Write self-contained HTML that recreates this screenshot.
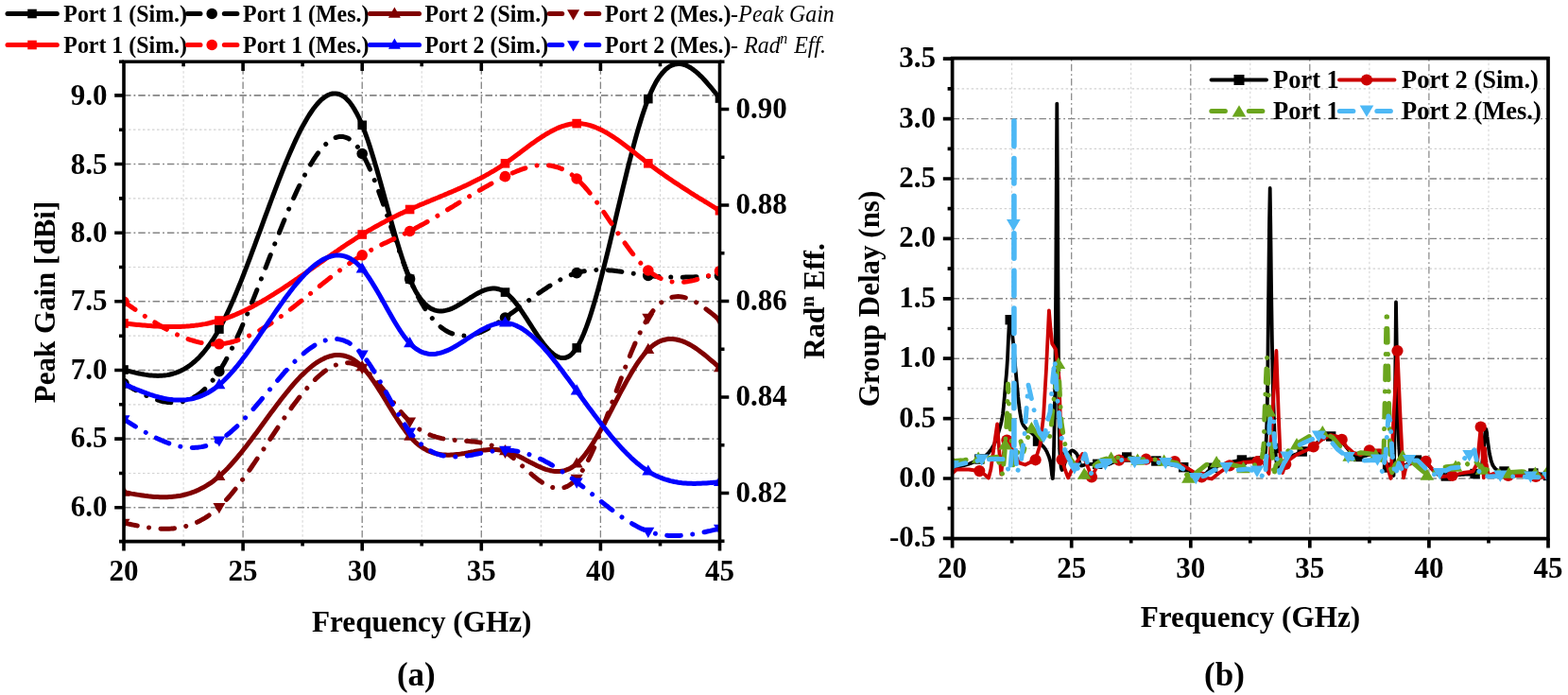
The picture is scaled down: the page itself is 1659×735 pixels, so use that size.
<!DOCTYPE html>
<html lang="en"><head><meta charset="utf-8"><title>Peak gain, radiation efficiency and group delay</title>
<style>
html,body{margin:0;padding:0;background:#fff;}
body{width:1659px;height:735px;overflow:hidden;}
svg{display:block;font-family:'Liberation Serif','Times New Roman',serif;font-weight:bold;}
.it{font-style:italic;font-weight:normal;}
.tk{font-size:31px;}
.lg{font-size:23.9px;}
.ti{font-size:31.2px;}
</style></head><body>
<svg width="1659" height="735" viewBox="0 0 1659 735">
<rect width="1659" height="735" fill="#fff"/>
<defs>
<clipPath id="ca"><rect x="131.0" y="65.2" width="630.5" height="507.40000000000003"/></clipPath>
<clipPath id="cb"><rect x="1007.6" y="61.7" width="630.4" height="507.90000000000003"/></clipPath>
</defs>

<g id="chart-a">
<path d="M194.1 65.2V572.6M320.1 65.2V572.6M446.2 65.2V572.6M572.4 65.2V572.6M698.5 65.2V572.6" stroke="#d2d2d2" stroke-width="1" stroke-dasharray="2.5 2.5" fill="none"/>
<path d="M131 500.5H761.5M131 427.8H761.5M131 355.2H761.5M131 282.5H761.5M131 209.9H761.5M131 137.2H761.5" stroke="#d2d2d2" stroke-width="1.2" stroke-dasharray="2.5 2.5" fill="none"/>
<path d="M257.1 65.2V572.6M383.2 65.2V572.6M509.3 65.2V572.6M635.4 65.2V572.6" stroke="#858585" stroke-width="1.3" stroke-dasharray="7.5 3 1.8 3" stroke-dashoffset="-6.1" fill="none"/>
<path d="M131 536.8H761.5M131 464.1H761.5M131 391.5H761.5M131 318.8H761.5M131 246.2H761.5M131 173.5H761.5M131 100.9H761.5" stroke="#858585" stroke-width="1.6" stroke-dasharray="7.5 3 1.8 3" fill="none"/>
<g clip-path="url(#ca)" fill="none" stroke-linecap="round" stroke-linejoin="round">
<path d="M131 391 L133 391.5 L135 392.1 L137 392.6 L139 393.1 L141 393.6 L143 394.1 L145 394.5 L147 395 L149 395.4 L151 395.7 L153 396.1 L155 396.4 L157 396.7 L159 396.9 L161 397.1 L163 397.2 L165 397.3 L167 397.4 L169 397.3 L171 397.2 L173 397.1 L175 396.9 L177 396.6 L179 396.2 L181 395.7 L183 395.2 L185 394.6 L187 393.9 L189 393.1 L191 392.2 L193 391.2 L195.1 390.1 L197.1 388.9 L199.1 387.6 L201.1 386.2 L203.1 384.7 L205.1 383 L207.1 381.3 L209.1 379.4 L211.1 377.4 L213.1 375.2 L215.1 373 L217.1 370.5 L219.1 368 L221.1 365.3 L223.1 362.4 L225.1 359.5 L227.1 356.3 L229.1 353 L231.1 349.5 L233.1 345.9 L235.1 342.1 L237.1 338.2 L239.1 334.1 L241.1 329.9 L243.1 325.5 L245.1 321 L247.1 316.4 L249.1 311.7 L251.1 306.9 L253.1 302 L255.1 297.1 L257.1 292 L259.1 286.9 L261.1 281.7 L263.1 276.4 L265.1 271.1 L267.1 265.7 L269.1 260.4 L271.1 254.9 L273.1 249.5 L275.1 244.1 L277.1 238.6 L279.1 233.1 L281.1 227.7 L283.1 222.3 L285.1 216.9 L287.1 211.5 L289.1 206.1 L291.1 200.8 L293.1 195.6 L295.1 190.4 L297.1 185.3 L299.1 180.3 L301.1 175.3 L303.1 170.4 L305.1 165.6 L307.1 161 L309.1 156.4 L311.1 152 L313.1 147.6 L315.1 143.5 L317.1 139.4 L319.1 135.5 L321.2 131.8 L323.2 128.2 L325.2 124.8 L327.2 121.5 L329.2 118.5 L331.2 115.6 L333.2 113 L335.2 110.5 L337.2 108.3 L339.2 106.2 L341.2 104.4 L343.2 102.9 L345.2 101.6 L347.2 100.5 L349.2 99.7 L351.2 99.1 L353.2 98.9 L355.2 98.9 L357.2 99.2 L359.2 99.7 L361.2 100.6 L363.2 101.8 L365.2 103.3 L367.2 105.2 L369.2 107.3 L371.2 109.8 L373.2 112.7 L375.2 115.9 L377.2 119.4 L379.2 123.3 L381.2 127.6 L383.2 132.3 L385.2 137.4 L387.2 142.8 L389.2 148.5 L391.2 154.6 L393.2 160.9 L395.2 167.4 L397.2 174.1 L399.2 181 L401.2 188.1 L403.2 195.2 L405.2 202.5 L407.2 209.7 L409.2 217 L411.2 224.3 L413.2 231.5 L415.2 238.6 L417.2 245.7 L419.2 252.6 L421.2 259.3 L423.2 265.8 L425.2 272 L427.2 278 L429.2 283.8 L431.2 289.1 L433.2 294.1 L435.2 298.8 L437.2 303 L439.2 306.9 L441.2 310.4 L443.2 313.5 L445.2 316.3 L447.3 318.8 L449.3 321 L451.3 322.9 L453.3 324.5 L455.3 325.9 L457.3 326.9 L459.3 327.8 L461.3 328.4 L463.3 328.8 L465.3 329 L467.3 329 L469.3 328.8 L471.3 328.4 L473.3 327.9 L475.3 327.3 L477.3 326.6 L479.3 325.7 L481.3 324.7 L483.3 323.7 L485.3 322.5 L487.3 321.4 L489.3 320.1 L491.3 318.9 L493.3 317.6 L495.3 316.3 L497.3 315 L499.3 313.8 L501.3 312.6 L503.3 311.4 L505.3 310.3 L507.3 309.2 L509.3 308.3 L511.3 307.4 L513.3 306.7 L515.3 306 L517.3 305.6 L519.3 305.2 L521.3 305.1 L523.3 305.1 L525.3 305.3 L527.3 305.7 L529.3 306.3 L531.3 307.2 L533.3 308.3 L535.3 309.7 L537.3 311.3 L539.3 313.2 L541.3 315.2 L543.3 317.5 L545.3 319.9 L547.3 322.6 L549.3 325.3 L551.3 328.1 L553.3 331.1 L555.3 334.1 L557.3 337.2 L559.3 340.3 L561.3 343.4 L563.3 346.5 L565.3 349.6 L567.3 352.6 L569.3 355.6 L571.3 358.5 L573.4 361.3 L575.4 363.9 L577.4 366.4 L579.4 368.7 L581.4 370.8 L583.4 372.7 L585.4 374.4 L587.4 375.9 L589.4 377 L591.4 377.9 L593.4 378.4 L595.4 378.6 L597.4 378.5 L599.4 378 L601.4 377.1 L603.4 375.8 L605.4 374 L607.4 371.8 L609.4 369.1 L611.4 365.9 L613.4 362.3 L615.4 358.1 L617.4 353.5 L619.4 348.5 L621.4 343.1 L623.4 337.4 L625.4 331.2 L627.4 324.8 L629.4 318.1 L631.4 311.1 L633.4 303.8 L635.4 296.3 L637.4 288.6 L639.4 280.7 L641.4 272.7 L643.4 264.6 L645.4 256.3 L647.4 248 L649.4 239.6 L651.4 231.1 L653.4 222.7 L655.4 214.2 L657.4 205.8 L659.4 197.5 L661.4 189.3 L663.4 181.1 L665.4 173.1 L667.4 165.3 L669.4 157.6 L671.4 150.1 L673.4 142.9 L675.4 135.9 L677.4 129.2 L679.4 122.8 L681.4 116.7 L683.4 111 L685.4 105.6 L687.4 100.7 L689.4 96.1 L691.4 91.9 L693.4 88.1 L695.4 84.6 L697.4 81.5 L699.5 78.8 L701.5 76.4 L703.5 74.2 L705.5 72.4 L707.5 70.9 L709.5 69.7 L711.5 68.8 L713.5 68.1 L715.5 67.7 L717.5 67.5 L719.5 67.6 L721.5 67.8 L723.5 68.3 L725.5 69 L727.5 69.9 L729.5 71 L731.5 72.2 L733.5 73.6 L735.5 75.2 L737.5 76.9 L739.5 78.7 L741.5 80.6 L743.5 82.6 L745.5 84.8 L747.5 87 L749.5 89.3 L751.5 91.6 L753.5 94 L755.5 96.5 L757.5 99 L759.5 101.5 L761.5 104" stroke="#000000" stroke-width="5" />
<rect x="126.2" y="386.2" width="9.6" height="9.6" fill="#000000"/>
<rect x="227.1" y="343.3" width="9.6" height="9.6" fill="#000000"/>
<rect x="378.4" y="127.5" width="9.6" height="9.6" fill="#000000"/>
<rect x="428.8" y="290.3" width="9.6" height="9.6" fill="#000000"/>
<rect x="529.7" y="304.3" width="9.6" height="9.6" fill="#000000"/>
<rect x="605.4" y="363.1" width="9.6" height="9.6" fill="#000000"/>
<rect x="681" y="99.8" width="9.6" height="9.6" fill="#000000"/>
<rect x="756.7" y="99.2" width="9.6" height="9.6" fill="#000000"/>
<path d="M131 405.5 L133 406.7 L135 407.8 L137 409 L139 410.1 L141 411.2 L143 412.3 L145 413.4 L147 414.5 L149 415.5 L151 416.5 L153 417.5 L155 418.4 L157 419.3 L159 420.2 L161 421 L163 421.7 L165 422.4 L167 423.1 L169 423.7 L171 424.2 L173 424.7 L175 425 L177 425.4 L179 425.6 L181 425.7 L183 425.8 L185 425.8 L187 425.7 L189 425.5 L191 425.2 L193 424.8 L195.1 424.3 L197.1 423.7 L199.1 423 L201.1 422.2 L203.1 421.2 L205.1 420.2 L207.1 419 L209.1 417.7 L211.1 416.2 L213.1 414.7 L215.1 412.9 L217.1 411.1 L219.1 409.1 L221.1 406.9 L223.1 404.7 L225.1 402.2 L227.1 399.6 L229.1 396.8 L231.1 393.9 L233.1 390.8 L235.1 387.6 L237.1 384.2 L239.1 380.6 L241.1 376.9 L243.1 373 L245.1 369.1 L247.1 365 L249.1 360.7 L251.1 356.4 L253.1 352 L255.1 347.5 L257.1 342.8 L259.1 338.1 L261.1 333.4 L263.1 328.5 L265.1 323.6 L267.1 318.6 L269.1 313.6 L271.1 308.6 L273.1 303.5 L275.1 298.3 L277.1 293.2 L279.1 288 L281.1 282.8 L283.1 277.6 L285.1 272.5 L287.1 267.3 L289.1 262.1 L291.1 257 L293.1 251.9 L295.1 246.9 L297.1 241.8 L299.1 236.9 L301.1 232 L303.1 227.1 L305.1 222.3 L307.1 217.6 L309.1 213 L311.1 208.5 L313.1 204.1 L315.1 199.8 L317.1 195.6 L319.1 191.5 L321.2 187.5 L323.2 183.6 L325.2 179.9 L327.2 176.4 L329.2 173 L331.2 169.7 L333.2 166.6 L335.2 163.7 L337.2 161 L339.2 158.4 L341.2 156.1 L343.2 153.9 L345.2 152 L347.2 150.2 L349.2 148.7 L351.2 147.4 L353.2 146.3 L355.2 145.5 L357.2 144.9 L359.2 144.5 L361.2 144.5 L363.2 144.6 L365.2 145.1 L367.2 145.8 L369.2 146.8 L371.2 148.2 L373.2 149.8 L375.2 151.7 L377.2 153.9 L379.2 156.4 L381.2 159.3 L383.2 162.5 L385.2 166 L387.2 169.9 L389.2 174 L391.2 178.4 L393.2 183.1 L395.2 188 L397.2 193.1 L399.2 198.3 L401.2 203.8 L403.2 209.3 L405.2 215 L407.2 220.8 L409.2 226.7 L411.2 232.5 L413.2 238.5 L415.2 244.4 L417.2 250.3 L419.2 256.1 L421.2 261.9 L423.2 267.6 L425.2 273.2 L427.2 278.7 L429.2 284 L431.2 289.1 L433.2 294 L435.2 298.7 L437.2 303.2 L439.2 307.5 L441.2 311.6 L443.2 315.4 L445.2 319 L447.3 322.5 L449.3 325.7 L451.3 328.7 L453.3 331.6 L455.3 334.2 L457.3 336.7 L459.3 339 L461.3 341.2 L463.3 343.1 L465.3 344.9 L467.3 346.6 L469.3 348 L471.3 349.3 L473.3 350.5 L475.3 351.6 L477.3 352.4 L479.3 353.2 L481.3 353.8 L483.3 354.3 L485.3 354.7 L487.3 354.9 L489.3 355 L491.3 355.1 L493.3 355 L495.3 354.8 L497.3 354.5 L499.3 354.1 L501.3 353.6 L503.3 353 L505.3 352.4 L507.3 351.7 L509.3 350.9 L511.3 350 L513.3 349 L515.3 348 L517.3 347 L519.3 345.8 L521.3 344.7 L523.3 343.5 L525.3 342.2 L527.3 340.9 L529.3 339.6 L531.3 338.2 L533.3 336.8 L535.3 335.4 L537.3 334 L539.3 332.6 L541.3 331.1 L543.3 329.7 L545.3 328.2 L547.3 326.7 L549.3 325.2 L551.3 323.7 L553.3 322.2 L555.3 320.7 L557.3 319.3 L559.3 317.8 L561.3 316.3 L563.3 314.8 L565.3 313.4 L567.3 312 L569.3 310.5 L571.3 309.1 L573.4 307.8 L575.4 306.4 L577.4 305.1 L579.4 303.7 L581.4 302.5 L583.4 301.2 L585.4 300 L587.4 298.8 L589.4 297.7 L591.4 296.6 L593.4 295.5 L595.4 294.5 L597.4 293.6 L599.4 292.6 L601.4 291.8 L603.4 291 L605.4 290.2 L607.4 289.5 L609.4 288.8 L611.4 288.3 L613.4 287.7 L615.4 287.3 L617.4 286.9 L619.4 286.5 L621.4 286.2 L623.4 286 L625.4 285.8 L627.4 285.6 L629.4 285.5 L631.4 285.4 L633.4 285.4 L635.4 285.4 L637.4 285.4 L639.4 285.5 L641.4 285.6 L643.4 285.7 L645.4 285.9 L647.4 286.1 L649.4 286.3 L651.4 286.5 L653.4 286.8 L655.4 287 L657.4 287.3 L659.4 287.6 L661.4 287.9 L663.4 288.2 L665.4 288.5 L667.4 288.8 L669.4 289.2 L671.4 289.5 L673.4 289.8 L675.4 290.1 L677.4 290.4 L679.4 290.7 L681.4 290.9 L683.4 291.2 L685.4 291.5 L687.4 291.7 L689.4 291.9 L691.4 292.1 L693.4 292.3 L695.4 292.4 L697.4 292.6 L699.5 292.7 L701.5 292.8 L703.5 292.9 L705.5 293 L707.5 293 L709.5 293.1 L711.5 293.1 L713.5 293.2 L715.5 293.2 L717.5 293.2 L719.5 293.2 L721.5 293.2 L723.5 293.2 L725.5 293.1 L727.5 293.1 L729.5 293 L731.5 293 L733.5 292.9 L735.5 292.8 L737.5 292.8 L739.5 292.7 L741.5 292.6 L743.5 292.5 L745.5 292.4 L747.5 292.3 L749.5 292.2 L751.5 292.1 L753.5 292 L755.5 291.8 L757.5 291.7 L759.5 291.6 L761.5 291.5" stroke="#000000" stroke-width="5" stroke-dasharray="14.68 12.52 0.01 12.52"/>
<circle cx="131" cy="405.5" r="5.8" fill="#000000"/>
<circle cx="231.9" cy="392.7" r="5.8" fill="#000000"/>
<circle cx="383.2" cy="162.5" r="5.8" fill="#000000"/>
<circle cx="433.6" cy="295" r="5.8" fill="#000000"/>
<circle cx="534.5" cy="336" r="5.8" fill="#000000"/>
<circle cx="610.2" cy="288.6" r="5.8" fill="#000000"/>
<circle cx="685.8" cy="291.5" r="5.8" fill="#000000"/>
<circle cx="761.5" cy="291.5" r="5.8" fill="#000000"/>
<path d="M131 520.6 L133 521 L135 521.3 L137 521.7 L139 522.1 L141 522.4 L143 522.8 L145 523.1 L147 523.4 L149 523.7 L151 524 L153 524.3 L155 524.5 L157 524.8 L159 525 L161 525.2 L163 525.4 L165 525.5 L167 525.6 L169 525.7 L171 525.8 L173 525.8 L175 525.8 L177 525.7 L179 525.6 L181 525.5 L183 525.3 L185 525.1 L187 524.8 L189 524.5 L191 524.2 L193 523.8 L195.1 523.3 L197.1 522.8 L199.1 522.2 L201.1 521.6 L203.1 520.9 L205.1 520.2 L207.1 519.4 L209.1 518.5 L211.1 517.6 L213.1 516.6 L215.1 515.6 L217.1 514.4 L219.1 513.2 L221.1 511.9 L223.1 510.6 L225.1 509.2 L227.1 507.6 L229.1 506.1 L231.1 504.4 L233.1 502.6 L235.1 500.8 L237.1 498.9 L239.1 496.9 L241.1 494.9 L243.1 492.7 L245.1 490.5 L247.1 488.3 L249.1 486 L251.1 483.6 L253.1 481.2 L255.1 478.8 L257.1 476.3 L259.1 473.7 L261.1 471.2 L263.1 468.6 L265.1 465.9 L267.1 463.3 L269.1 460.6 L271.1 457.9 L273.1 455.2 L275.1 452.5 L277.1 449.7 L279.1 447 L281.1 444.3 L283.1 441.5 L285.1 438.8 L287.1 436.1 L289.1 433.4 L291.1 430.7 L293.1 428.1 L295.1 425.4 L297.1 422.8 L299.1 420.3 L301.1 417.7 L303.1 415.2 L305.1 412.8 L307.1 410.3 L309.1 408 L311.1 405.7 L313.1 403.4 L315.1 401.2 L317.1 399.1 L319.1 397.1 L321.2 395.1 L323.2 393.2 L325.2 391.3 L327.2 389.6 L329.2 387.9 L331.2 386.3 L333.2 384.8 L335.2 383.4 L337.2 382.1 L339.2 381 L341.2 379.9 L343.2 378.9 L345.2 378 L347.2 377.3 L349.2 376.7 L351.2 376.2 L353.2 375.8 L355.2 375.6 L357.2 375.5 L359.2 375.5 L361.2 375.7 L363.2 376 L365.2 376.5 L367.2 377.1 L369.2 377.9 L371.2 378.8 L373.2 379.9 L375.2 381.2 L377.2 382.6 L379.2 384.2 L381.2 386 L383.2 388 L385.2 390.2 L387.2 392.5 L389.2 395 L391.2 397.6 L393.2 400.3 L395.2 403.2 L397.2 406.2 L399.2 409.2 L401.2 412.4 L403.2 415.5 L405.2 418.8 L407.2 422 L409.2 425.3 L411.2 428.6 L413.2 431.9 L415.2 435.1 L417.2 438.4 L419.2 441.5 L421.2 444.6 L423.2 447.6 L425.2 450.6 L427.2 453.4 L429.2 456.1 L431.2 458.6 L433.2 461 L435.2 463.3 L437.2 465.4 L439.2 467.3 L441.2 469.1 L443.2 470.7 L445.2 472.2 L447.3 473.6 L449.3 474.8 L451.3 475.9 L453.3 476.9 L455.3 477.7 L457.3 478.5 L459.3 479.1 L461.3 479.7 L463.3 480.1 L465.3 480.5 L467.3 480.8 L469.3 481 L471.3 481.1 L473.3 481.2 L475.3 481.2 L477.3 481.1 L479.3 481 L481.3 480.8 L483.3 480.6 L485.3 480.4 L487.3 480.1 L489.3 479.8 L491.3 479.5 L493.3 479.1 L495.3 478.8 L497.3 478.4 L499.3 478 L501.3 477.7 L503.3 477.3 L505.3 477 L507.3 476.7 L509.3 476.4 L511.3 476.1 L513.3 475.9 L515.3 475.7 L517.3 475.6 L519.3 475.5 L521.3 475.5 L523.3 475.5 L525.3 475.6 L527.3 475.7 L529.3 476 L531.3 476.3 L533.3 476.7 L535.3 477.2 L537.3 477.8 L539.3 478.5 L541.3 479.2 L543.3 480 L545.3 480.9 L547.3 481.8 L549.3 482.8 L551.3 483.8 L553.3 484.8 L555.3 485.9 L557.3 487 L559.3 488 L561.3 489.1 L563.3 490.1 L565.3 491.1 L567.3 492.1 L569.3 493 L571.3 493.9 L573.4 494.8 L575.4 495.6 L577.4 496.3 L579.4 496.9 L581.4 497.4 L583.4 497.9 L585.4 498.2 L587.4 498.4 L589.4 498.5 L591.4 498.5 L593.4 498.3 L595.4 498 L597.4 497.6 L599.4 496.9 L601.4 496.1 L603.4 495.2 L605.4 494 L607.4 492.6 L609.4 491.1 L611.4 489.3 L613.4 487.3 L615.4 485.2 L617.4 482.8 L619.4 480.3 L621.4 477.6 L623.4 474.7 L625.4 471.7 L627.4 468.6 L629.4 465.3 L631.4 462 L633.4 458.5 L635.4 455 L637.4 451.4 L639.4 447.7 L641.4 443.9 L643.4 440.2 L645.4 436.3 L647.4 432.5 L649.4 428.7 L651.4 424.8 L653.4 421 L655.4 417.2 L657.4 413.4 L659.4 409.7 L661.4 406 L663.4 402.4 L665.4 398.9 L667.4 395.4 L669.4 392.1 L671.4 388.8 L673.4 385.7 L675.4 382.7 L677.4 379.9 L679.4 377.2 L681.4 374.7 L683.4 372.4 L685.4 370.2 L687.4 368.3 L689.4 366.5 L691.4 364.9 L693.4 363.5 L695.4 362.3 L697.4 361.3 L699.5 360.4 L701.5 359.7 L703.5 359.2 L705.5 358.8 L707.5 358.6 L709.5 358.5 L711.5 358.5 L713.5 358.7 L715.5 359 L717.5 359.5 L719.5 360 L721.5 360.7 L723.5 361.4 L725.5 362.3 L727.5 363.2 L729.5 364.3 L731.5 365.4 L733.5 366.6 L735.5 367.9 L737.5 369.3 L739.5 370.7 L741.5 372.2 L743.5 373.7 L745.5 375.3 L747.5 376.9 L749.5 378.6 L751.5 380.3 L753.5 382 L755.5 383.7 L757.5 385.5 L759.5 387.2 L761.5 389" stroke="#800000" stroke-width="5" />
<path d="M124.5 524.8L137.5 524.8L131 513.6Z" fill="#800000"/>
<path d="M225.4 507.9L238.4 507.9L231.9 496.7Z" fill="#800000"/>
<path d="M376.7 392.2L389.7 392.2L383.2 381Z" fill="#800000"/>
<path d="M427.1 465.7L440.1 465.7L433.6 454.5Z" fill="#800000"/>
<path d="M528 481.2L541 481.2L534.5 470Z" fill="#800000"/>
<path d="M603.7 494.6L616.7 494.6L610.2 483.4Z" fill="#800000"/>
<path d="M679.3 374L692.3 374L685.8 362.8Z" fill="#800000"/>
<path d="M755 393.2L768 393.2L761.5 382Z" fill="#800000"/>
<path d="M131 553 L133 553.4 L135 553.9 L137 554.3 L139 554.7 L141 555.1 L143 555.5 L145 555.9 L147 556.3 L149 556.7 L151 557 L153 557.3 L155 557.6 L157 557.9 L159 558.2 L161 558.4 L163 558.7 L165 558.8 L167 559 L169 559.1 L171 559.2 L173 559.3 L175 559.3 L177 559.2 L179 559.2 L181 559.1 L183 558.9 L185 558.7 L187 558.5 L189 558.2 L191 557.8 L193 557.4 L195.1 556.9 L197.1 556.4 L199.1 555.8 L201.1 555.2 L203.1 554.5 L205.1 553.7 L207.1 552.9 L209.1 552 L211.1 551 L213.1 549.9 L215.1 548.8 L217.1 547.6 L219.1 546.3 L221.1 545 L223.1 543.5 L225.1 542 L227.1 540.4 L229.1 538.7 L231.1 536.9 L233.1 535.1 L235.1 533.1 L237.1 531.1 L239.1 528.9 L241.1 526.7 L243.1 524.5 L245.1 522.1 L247.1 519.7 L249.1 517.2 L251.1 514.7 L253.1 512.1 L255.1 509.4 L257.1 506.7 L259.1 503.9 L261.1 501.2 L263.1 498.3 L265.1 495.5 L267.1 492.5 L269.1 489.6 L271.1 486.7 L273.1 483.7 L275.1 480.7 L277.1 477.7 L279.1 474.6 L281.1 471.6 L283.1 468.6 L285.1 465.5 L287.1 462.5 L289.1 459.5 L291.1 456.5 L293.1 453.5 L295.1 450.5 L297.1 447.5 L299.1 444.6 L301.1 441.6 L303.1 438.8 L305.1 435.9 L307.1 433.1 L309.1 430.3 L311.1 427.6 L313.1 424.9 L315.1 422.3 L317.1 419.7 L319.1 417.2 L321.2 414.8 L323.2 412.4 L325.2 410.1 L327.2 407.8 L329.2 405.6 L331.2 403.6 L333.2 401.6 L335.2 399.6 L337.2 397.8 L339.2 396.1 L341.2 394.5 L343.2 392.9 L345.2 391.5 L347.2 390.2 L349.2 389 L351.2 387.9 L353.2 386.9 L355.2 386.1 L357.2 385.3 L359.2 384.8 L361.2 384.3 L363.2 384 L365.2 383.8 L367.2 383.7 L369.2 383.8 L371.2 384.1 L373.2 384.5 L375.2 385.1 L377.2 385.8 L379.2 386.7 L381.2 387.8 L383.2 389 L385.2 390.4 L387.2 392 L389.2 393.7 L391.2 395.6 L393.2 397.5 L395.2 399.6 L397.2 401.8 L399.2 404.1 L401.2 406.5 L403.2 409 L405.2 411.4 L407.2 414 L409.2 416.6 L411.2 419.1 L413.2 421.7 L415.2 424.3 L417.2 426.9 L419.2 429.4 L421.2 431.9 L423.2 434.4 L425.2 436.8 L427.2 439.1 L429.2 441.3 L431.2 443.4 L433.2 445.4 L435.2 447.3 L437.2 449 L439.2 450.7 L441.2 452.2 L443.2 453.6 L445.2 454.9 L447.3 456.1 L449.3 457.2 L451.3 458.2 L453.3 459.2 L455.3 460 L457.3 460.8 L459.3 461.4 L461.3 462.1 L463.3 462.6 L465.3 463.1 L467.3 463.6 L469.3 464 L471.3 464.3 L473.3 464.6 L475.3 464.9 L477.3 465.1 L479.3 465.3 L481.3 465.5 L483.3 465.7 L485.3 465.8 L487.3 466 L489.3 466.1 L491.3 466.2 L493.3 466.4 L495.3 466.5 L497.3 466.7 L499.3 466.9 L501.3 467.1 L503.3 467.3 L505.3 467.6 L507.3 467.9 L509.3 468.2 L511.3 468.6 L513.3 469 L515.3 469.5 L517.3 470.1 L519.3 470.7 L521.3 471.4 L523.3 472.2 L525.3 473 L527.3 473.9 L529.3 474.9 L531.3 476 L533.3 477.2 L535.3 478.5 L537.3 479.9 L539.3 481.4 L541.3 483 L543.3 484.6 L545.3 486.3 L547.3 488 L549.3 489.8 L551.3 491.6 L553.3 493.4 L555.3 495.2 L557.3 497 L559.3 498.8 L561.3 500.6 L563.3 502.3 L565.3 504 L567.3 505.6 L569.3 507.2 L571.3 508.6 L573.4 510 L575.4 511.3 L577.4 512.4 L579.4 513.5 L581.4 514.4 L583.4 515.1 L585.4 515.7 L587.4 516.1 L589.4 516.4 L591.4 516.5 L593.4 516.3 L595.4 516 L597.4 515.4 L599.4 514.7 L601.4 513.6 L603.4 512.4 L605.4 510.8 L607.4 509 L609.4 506.9 L611.4 504.5 L613.4 501.9 L615.4 498.9 L617.4 495.7 L619.4 492.2 L621.4 488.6 L623.4 484.7 L625.4 480.6 L627.4 476.3 L629.4 471.8 L631.4 467.2 L633.4 462.4 L635.4 457.6 L637.4 452.6 L639.4 447.5 L641.4 442.3 L643.4 437 L645.4 431.7 L647.4 426.4 L649.4 421 L651.4 415.6 L653.4 410.2 L655.4 404.9 L657.4 399.6 L659.4 394.3 L661.4 389.1 L663.4 383.9 L665.4 378.9 L667.4 373.9 L669.4 369.1 L671.4 364.4 L673.4 359.9 L675.4 355.5 L677.4 351.3 L679.4 347.3 L681.4 343.5 L683.4 340 L685.4 336.6 L687.4 333.6 L689.4 330.7 L691.4 328.1 L693.4 325.8 L695.4 323.7 L697.4 321.8 L699.5 320.1 L701.5 318.6 L703.5 317.4 L705.5 316.3 L707.5 315.4 L709.5 314.7 L711.5 314.2 L713.5 313.9 L715.5 313.7 L717.5 313.6 L719.5 313.7 L721.5 314 L723.5 314.4 L725.5 314.9 L727.5 315.5 L729.5 316.3 L731.5 317.2 L733.5 318.1 L735.5 319.2 L737.5 320.3 L739.5 321.6 L741.5 322.9 L743.5 324.2 L745.5 325.7 L747.5 327.2 L749.5 328.7 L751.5 330.3 L753.5 331.9 L755.5 333.5 L757.5 335.2 L759.5 336.8 L761.5 338.5" stroke="#800000" stroke-width="5" stroke-dasharray="14.60 12.45 0.01 12.45"/>
<path d="M124.5 548.8L137.5 548.8L131 560Z" fill="#800000"/>
<path d="M225.4 532L238.4 532L231.9 543.2Z" fill="#800000"/>
<path d="M376.7 384.8L389.7 384.8L383.2 396Z" fill="#800000"/>
<path d="M427.1 441.6L440.1 441.6L433.6 452.8Z" fill="#800000"/>
<path d="M528 473.8L541 473.8L534.5 485Z" fill="#800000"/>
<path d="M603.7 501.8L616.7 501.8L610.2 513Z" fill="#800000"/>
<path d="M679.3 331.8L692.3 331.8L685.8 343Z" fill="#800000"/>
<path d="M755 334.3L768 334.3L761.5 345.5Z" fill="#800000"/>
<path d="M131 342 L133 342.2 L135 342.4 L137 342.6 L139 342.8 L141 343 L143 343.2 L145 343.4 L147 343.6 L149 343.8 L151 344 L153 344.1 L155 344.3 L157 344.5 L159 344.6 L161 344.8 L163 344.9 L165 345 L167 345.1 L169 345.2 L171 345.3 L173 345.4 L175 345.4 L177 345.5 L179 345.5 L181 345.5 L183 345.5 L185 345.5 L187 345.5 L189 345.5 L191 345.4 L193 345.3 L195.1 345.2 L197.1 345.1 L199.1 344.9 L201.1 344.8 L203.1 344.6 L205.1 344.4 L207.1 344.1 L209.1 343.9 L211.1 343.6 L213.1 343.3 L215.1 342.9 L217.1 342.6 L219.1 342.2 L221.1 341.8 L223.1 341.3 L225.1 340.8 L227.1 340.3 L229.1 339.8 L231.1 339.2 L233.1 338.6 L235.1 338 L237.1 337.4 L239.1 336.7 L241.1 335.9 L243.1 335.2 L245.1 334.4 L247.1 333.6 L249.1 332.8 L251.1 331.9 L253.1 331 L255.1 330.1 L257.1 329.2 L259.1 328.3 L261.1 327.3 L263.1 326.3 L265.1 325.2 L267.1 324.2 L269.1 323.1 L271.1 322 L273.1 320.9 L275.1 319.8 L277.1 318.7 L279.1 317.5 L281.1 316.3 L283.1 315.1 L285.1 313.9 L287.1 312.7 L289.1 311.5 L291.1 310.2 L293.1 308.9 L295.1 307.6 L297.1 306.4 L299.1 305.1 L301.1 303.7 L303.1 302.4 L305.1 301.1 L307.1 299.7 L309.1 298.4 L311.1 297 L313.1 295.6 L315.1 294.3 L317.1 292.9 L319.1 291.5 L321.2 290.1 L323.2 288.7 L325.2 287.3 L327.2 285.9 L329.2 284.5 L331.2 283.1 L333.2 281.7 L335.2 280.3 L337.2 278.9 L339.2 277.5 L341.2 276.1 L343.2 274.7 L345.2 273.3 L347.2 271.9 L349.2 270.5 L351.2 269.1 L353.2 267.7 L355.2 266.3 L357.2 265 L359.2 263.6 L361.2 262.2 L363.2 260.9 L365.2 259.5 L367.2 258.2 L369.2 256.9 L371.2 255.6 L373.2 254.3 L375.2 253 L377.2 251.7 L379.2 250.5 L381.2 249.2 L383.2 248 L385.2 246.8 L387.2 245.6 L389.2 244.4 L391.2 243.2 L393.2 242.1 L395.2 240.9 L397.2 239.8 L399.2 238.7 L401.2 237.6 L403.2 236.5 L405.2 235.4 L407.2 234.4 L409.2 233.3 L411.2 232.3 L413.2 231.2 L415.2 230.2 L417.2 229.2 L419.2 228.3 L421.2 227.3 L423.2 226.3 L425.2 225.4 L427.2 224.4 L429.2 223.5 L431.2 222.6 L433.2 221.7 L435.2 220.8 L437.2 219.9 L439.2 219 L441.2 218.2 L443.2 217.3 L445.2 216.4 L447.3 215.6 L449.3 214.8 L451.3 213.9 L453.3 213.1 L455.3 212.3 L457.3 211.4 L459.3 210.6 L461.3 209.8 L463.3 209 L465.3 208.1 L467.3 207.3 L469.3 206.5 L471.3 205.6 L473.3 204.8 L475.3 203.9 L477.3 203.1 L479.3 202.2 L481.3 201.4 L483.3 200.5 L485.3 199.6 L487.3 198.7 L489.3 197.8 L491.3 196.9 L493.3 196 L495.3 195 L497.3 194.1 L499.3 193.1 L501.3 192.1 L503.3 191.1 L505.3 190.1 L507.3 189.1 L509.3 188 L511.3 187 L513.3 185.9 L515.3 184.7 L517.3 183.6 L519.3 182.4 L521.3 181.3 L523.3 180.1 L525.3 178.8 L527.3 177.6 L529.3 176.3 L531.3 175 L533.3 173.6 L535.3 172.2 L537.3 170.8 L539.3 169.4 L541.3 168 L543.3 166.5 L545.3 165 L547.3 163.5 L549.3 162.1 L551.3 160.5 L553.3 159 L555.3 157.5 L557.3 156.1 L559.3 154.6 L561.3 153.1 L563.3 151.6 L565.3 150.2 L567.3 148.8 L569.3 147.4 L571.3 146.1 L573.4 144.7 L575.4 143.5 L577.4 142.2 L579.4 141 L581.4 139.9 L583.4 138.8 L585.4 137.7 L587.4 136.7 L589.4 135.8 L591.4 134.9 L593.4 134.1 L595.4 133.4 L597.4 132.8 L599.4 132.2 L601.4 131.7 L603.4 131.3 L605.4 131 L607.4 130.8 L609.4 130.6 L611.4 130.6 L613.4 130.7 L615.4 130.8 L617.4 131.1 L619.4 131.4 L621.4 131.9 L623.4 132.4 L625.4 133 L627.4 133.6 L629.4 134.4 L631.4 135.2 L633.4 136.1 L635.4 137 L637.4 138 L639.4 139.1 L641.4 140.2 L643.4 141.4 L645.4 142.6 L647.4 143.9 L649.4 145.2 L651.4 146.5 L653.4 147.9 L655.4 149.3 L657.4 150.8 L659.4 152.3 L661.4 153.8 L663.4 155.3 L665.4 156.8 L667.4 158.4 L669.4 159.9 L671.4 161.5 L673.4 163.1 L675.4 164.7 L677.4 166.2 L679.4 167.8 L681.4 169.4 L683.4 170.9 L685.4 172.5 L687.4 174 L689.4 175.5 L691.4 177 L693.4 178.5 L695.4 180 L697.4 181.4 L699.5 182.9 L701.5 184.3 L703.5 185.7 L705.5 187.1 L707.5 188.5 L709.5 189.8 L711.5 191.2 L713.5 192.6 L715.5 193.9 L717.5 195.2 L719.5 196.5 L721.5 197.8 L723.5 199.1 L725.5 200.4 L727.5 201.7 L729.5 203 L731.5 204.3 L733.5 205.5 L735.5 206.8 L737.5 208 L739.5 209.3 L741.5 210.5 L743.5 211.7 L745.5 213 L747.5 214.2 L749.5 215.4 L751.5 216.6 L753.5 217.8 L755.5 219.1 L757.5 220.3 L759.5 221.5 L761.5 222.7" stroke="#ff0000" stroke-width="5" />
<rect x="126.2" y="337.2" width="9.6" height="9.6" fill="#ff0000"/>
<rect x="227.1" y="334.2" width="9.6" height="9.6" fill="#ff0000"/>
<rect x="378.4" y="243.2" width="9.6" height="9.6" fill="#ff0000"/>
<rect x="428.8" y="216.7" width="9.6" height="9.6" fill="#ff0000"/>
<rect x="529.7" y="168" width="9.6" height="9.6" fill="#ff0000"/>
<rect x="605.4" y="125.8" width="9.6" height="9.6" fill="#ff0000"/>
<rect x="681" y="168" width="9.6" height="9.6" fill="#ff0000"/>
<rect x="756.7" y="217.9" width="9.6" height="9.6" fill="#ff0000"/>
<path d="M131 319 L133 320.4 L135 321.8 L137 323.2 L139 324.6 L141 326 L143 327.3 L145 328.7 L147 330.1 L149 331.4 L151 332.8 L153 334.1 L155 335.4 L157 336.7 L159 338 L161 339.3 L163 340.5 L165 341.7 L167 343 L169 344.2 L171 345.3 L173 346.5 L175 347.6 L177 348.7 L179 349.7 L181 350.8 L183 351.8 L185 352.8 L187 353.7 L189 354.6 L191 355.5 L193 356.3 L195.1 357.1 L197.1 357.9 L199.1 358.6 L201.1 359.3 L203.1 359.9 L205.1 360.5 L207.1 361.1 L209.1 361.6 L211.1 362.1 L213.1 362.5 L215.1 362.8 L217.1 363.2 L219.1 363.4 L221.1 363.6 L223.1 363.8 L225.1 363.9 L227.1 363.9 L229.1 363.9 L231.1 363.8 L233.1 363.7 L235.1 363.5 L237.1 363.3 L239.1 363 L241.1 362.6 L243.1 362.2 L245.1 361.7 L247.1 361.2 L249.1 360.6 L251.1 360 L253.1 359.3 L255.1 358.6 L257.1 357.8 L259.1 357 L261.1 356.2 L263.1 355.3 L265.1 354.3 L267.1 353.4 L269.1 352.3 L271.1 351.3 L273.1 350.2 L275.1 349.1 L277.1 347.9 L279.1 346.7 L281.1 345.5 L283.1 344.2 L285.1 343 L287.1 341.6 L289.1 340.3 L291.1 338.9 L293.1 337.6 L295.1 336.1 L297.1 334.7 L299.1 333.3 L301.1 331.8 L303.1 330.3 L305.1 328.8 L307.1 327.3 L309.1 325.7 L311.1 324.2 L313.1 322.6 L315.1 321 L317.1 319.4 L319.1 317.9 L321.2 316.3 L323.2 314.7 L325.2 313 L327.2 311.4 L329.2 309.8 L331.2 308.2 L333.2 306.6 L335.2 305 L337.2 303.4 L339.2 301.7 L341.2 300.1 L343.2 298.5 L345.2 297 L347.2 295.4 L349.2 293.8 L351.2 292.2 L353.2 290.7 L355.2 289.2 L357.2 287.6 L359.2 286.1 L361.2 284.7 L363.2 283.2 L365.2 281.7 L367.2 280.3 L369.2 278.9 L371.2 277.5 L373.2 276.2 L375.2 274.8 L377.2 273.5 L379.2 272.3 L381.2 271 L383.2 269.8 L385.2 268.6 L387.2 267.5 L389.2 266.3 L391.2 265.2 L393.2 264.2 L395.2 263.1 L397.2 262.1 L399.2 261.1 L401.2 260.1 L403.2 259.1 L405.2 258.1 L407.2 257.1 L409.2 256.2 L411.2 255.2 L413.2 254.3 L415.2 253.4 L417.2 252.4 L419.2 251.5 L421.2 250.5 L423.2 249.6 L425.2 248.6 L427.2 247.7 L429.2 246.7 L431.2 245.7 L433.2 244.7 L435.2 243.7 L437.2 242.6 L439.2 241.6 L441.2 240.5 L443.2 239.4 L445.2 238.3 L447.3 237.2 L449.3 236.1 L451.3 235 L453.3 233.8 L455.3 232.7 L457.3 231.5 L459.3 230.3 L461.3 229.2 L463.3 228 L465.3 226.8 L467.3 225.6 L469.3 224.4 L471.3 223.1 L473.3 221.9 L475.3 220.7 L477.3 219.5 L479.3 218.3 L481.3 217 L483.3 215.8 L485.3 214.6 L487.3 213.4 L489.3 212.1 L491.3 210.9 L493.3 209.7 L495.3 208.5 L497.3 207.3 L499.3 206.1 L501.3 204.9 L503.3 203.7 L505.3 202.5 L507.3 201.3 L509.3 200.2 L511.3 199 L513.3 197.9 L515.3 196.8 L517.3 195.6 L519.3 194.5 L521.3 193.4 L523.3 192.4 L525.3 191.3 L527.3 190.2 L529.3 189.2 L531.3 188.2 L533.3 187.2 L535.3 186.2 L537.3 185.2 L539.3 184.3 L541.3 183.4 L543.3 182.5 L545.3 181.7 L547.3 180.8 L549.3 180.1 L551.3 179.3 L553.3 178.6 L555.3 178 L557.3 177.4 L559.3 176.8 L561.3 176.3 L563.3 175.9 L565.3 175.5 L567.3 175.2 L569.3 174.9 L571.3 174.8 L573.4 174.7 L575.4 174.6 L577.4 174.7 L579.4 174.8 L581.4 175 L583.4 175.3 L585.4 175.7 L587.4 176.2 L589.4 176.7 L591.4 177.4 L593.4 178.2 L595.4 179 L597.4 180 L599.4 181.1 L601.4 182.3 L603.4 183.6 L605.4 185.1 L607.4 186.6 L609.4 188.3 L611.4 190.1 L613.4 192 L615.4 194.1 L617.4 196.2 L619.4 198.5 L621.4 200.8 L623.4 203.3 L625.4 205.8 L627.4 208.4 L629.4 211.1 L631.4 213.8 L633.4 216.6 L635.4 219.4 L637.4 222.3 L639.4 225.2 L641.4 228.2 L643.4 231.1 L645.4 234.1 L647.4 237.1 L649.4 240 L651.4 243 L653.4 246 L655.4 248.9 L657.4 251.8 L659.4 254.7 L661.4 257.5 L663.4 260.3 L665.4 263 L667.4 265.7 L669.4 268.3 L671.4 270.8 L673.4 273.2 L675.4 275.5 L677.4 277.8 L679.4 279.9 L681.4 282 L683.4 283.9 L685.4 285.7 L687.4 287.3 L689.4 288.8 L691.4 290.2 L693.4 291.5 L695.4 292.7 L697.4 293.7 L699.5 294.6 L701.5 295.5 L703.5 296.2 L705.5 296.8 L707.5 297.3 L709.5 297.7 L711.5 298 L713.5 298.3 L715.5 298.4 L717.5 298.5 L719.5 298.5 L721.5 298.4 L723.5 298.3 L725.5 298 L727.5 297.8 L729.5 297.4 L731.5 297 L733.5 296.6 L735.5 296.1 L737.5 295.5 L739.5 294.9 L741.5 294.3 L743.5 293.7 L745.5 293 L747.5 292.2 L749.5 291.5 L751.5 290.7 L753.5 289.9 L755.5 289.1 L757.5 288.3 L759.5 287.5 L761.5 286.7" stroke="#ff0000" stroke-width="5" stroke-dasharray="14.60 12.45 0.01 12.45"/>
<circle cx="131" cy="319" r="5.8" fill="#ff0000"/>
<circle cx="231.9" cy="363.8" r="5.8" fill="#ff0000"/>
<circle cx="383.2" cy="269.8" r="5.8" fill="#ff0000"/>
<circle cx="433.6" cy="244.5" r="5.8" fill="#ff0000"/>
<circle cx="534.5" cy="186.6" r="5.8" fill="#ff0000"/>
<circle cx="610.2" cy="189" r="5.8" fill="#ff0000"/>
<circle cx="685.8" cy="286" r="5.8" fill="#ff0000"/>
<circle cx="761.5" cy="286.7" r="5.8" fill="#ff0000"/>
<path d="M131 406 L133 406.9 L135 407.7 L137 408.6 L139 409.5 L141 410.3 L143 411.2 L145 412 L147 412.8 L149 413.6 L151 414.4 L153 415.1 L155 415.9 L157 416.6 L159 417.3 L161 417.9 L163 418.6 L165 419.2 L167 419.7 L169 420.3 L171 420.7 L173 421.2 L175 421.6 L177 422 L179 422.3 L181 422.5 L183 422.8 L185 422.9 L187 423 L189 423.1 L191 423.1 L193 423 L195.1 422.9 L197.1 422.7 L199.1 422.4 L201.1 422.1 L203.1 421.7 L205.1 421.3 L207.1 420.7 L209.1 420.1 L211.1 419.4 L213.1 418.6 L215.1 417.8 L217.1 416.8 L219.1 415.8 L221.1 414.7 L223.1 413.5 L225.1 412.1 L227.1 410.8 L229.1 409.3 L231.1 407.7 L233.1 406 L235.1 404.2 L237.1 402.3 L239.1 400.3 L241.1 398.3 L243.1 396.1 L245.1 393.9 L247.1 391.6 L249.1 389.2 L251.1 386.8 L253.1 384.3 L255.1 381.7 L257.1 379.1 L259.1 376.5 L261.1 373.7 L263.1 371 L265.1 368.2 L267.1 365.4 L269.1 362.5 L271.1 359.7 L273.1 356.8 L275.1 353.9 L277.1 350.9 L279.1 348 L281.1 345.1 L283.1 342.1 L285.1 339.2 L287.1 336.3 L289.1 333.3 L291.1 330.4 L293.1 327.5 L295.1 324.7 L297.1 321.9 L299.1 319.1 L301.1 316.3 L303.1 313.6 L305.1 310.9 L307.1 308.3 L309.1 305.7 L311.1 303.1 L313.1 300.7 L315.1 298.3 L317.1 296 L319.1 293.7 L321.2 291.5 L323.2 289.4 L325.2 287.4 L327.2 285.5 L329.2 283.6 L331.2 281.9 L333.2 280.3 L335.2 278.7 L337.2 277.3 L339.2 276 L341.2 274.8 L343.2 273.7 L345.2 272.8 L347.2 272 L349.2 271.3 L351.2 270.8 L353.2 270.4 L355.2 270.1 L357.2 270 L359.2 270.1 L361.2 270.3 L363.2 270.6 L365.2 271.2 L367.2 271.9 L369.2 272.8 L371.2 273.8 L373.2 275.1 L375.2 276.5 L377.2 278.1 L379.2 280 L381.2 282 L383.2 284.2 L385.2 286.6 L387.2 289.2 L389.2 292 L391.2 295 L393.2 298.1 L395.2 301.3 L397.2 304.6 L399.2 308 L401.2 311.4 L403.2 315 L405.2 318.5 L407.2 322.1 L409.2 325.7 L411.2 329.2 L413.2 332.8 L415.2 336.3 L417.2 339.7 L419.2 343 L421.2 346.2 L423.2 349.4 L425.2 352.3 L427.2 355.2 L429.2 357.8 L431.2 360.3 L433.2 362.6 L435.2 364.6 L437.2 366.5 L439.2 368.1 L441.2 369.5 L443.2 370.7 L445.2 371.8 L447.3 372.6 L449.3 373.3 L451.3 373.8 L453.3 374.2 L455.3 374.4 L457.3 374.4 L459.3 374.4 L461.3 374.2 L463.3 373.8 L465.3 373.4 L467.3 372.8 L469.3 372.2 L471.3 371.4 L473.3 370.6 L475.3 369.7 L477.3 368.7 L479.3 367.6 L481.3 366.5 L483.3 365.3 L485.3 364.1 L487.3 362.9 L489.3 361.6 L491.3 360.3 L493.3 359 L495.3 357.7 L497.3 356.4 L499.3 355.1 L501.3 353.8 L503.3 352.6 L505.3 351.4 L507.3 350.2 L509.3 349 L511.3 347.9 L513.3 346.9 L515.3 345.9 L517.3 345 L519.3 344.2 L521.3 343.5 L523.3 342.8 L525.3 342.3 L527.3 341.9 L529.3 341.6 L531.3 341.4 L533.3 341.4 L535.3 341.5 L537.3 341.7 L539.3 342.1 L541.3 342.6 L543.3 343.2 L545.3 344 L547.3 344.9 L549.3 345.9 L551.3 347 L553.3 348.2 L555.3 349.6 L557.3 351 L559.3 352.6 L561.3 354.2 L563.3 355.9 L565.3 357.8 L567.3 359.7 L569.3 361.7 L571.3 363.7 L573.4 365.8 L575.4 368 L577.4 370.3 L579.4 372.6 L581.4 375 L583.4 377.5 L585.4 379.9 L587.4 382.5 L589.4 385 L591.4 387.7 L593.4 390.3 L595.4 393 L597.4 395.7 L599.4 398.4 L601.4 401.1 L603.4 403.9 L605.4 406.6 L607.4 409.4 L609.4 412.2 L611.4 415 L613.4 417.7 L615.4 420.5 L617.4 423.2 L619.4 426 L621.4 428.7 L623.4 431.4 L625.4 434.1 L627.4 436.8 L629.4 439.5 L631.4 442.1 L633.4 444.7 L635.4 447.3 L637.4 449.9 L639.4 452.4 L641.4 454.9 L643.4 457.4 L645.4 459.9 L647.4 462.3 L649.4 464.6 L651.4 466.9 L653.4 469.2 L655.4 471.4 L657.4 473.6 L659.4 475.8 L661.4 477.8 L663.4 479.9 L665.4 481.8 L667.4 483.8 L669.4 485.6 L671.4 487.4 L673.4 489.2 L675.4 490.8 L677.4 492.4 L679.4 494 L681.4 495.4 L683.4 496.8 L685.4 498.1 L687.4 499.4 L689.4 500.6 L691.4 501.7 L693.4 502.7 L695.4 503.6 L697.4 504.5 L699.5 505.3 L701.5 506.1 L703.5 506.8 L705.5 507.4 L707.5 508 L709.5 508.6 L711.5 509 L713.5 509.5 L715.5 509.8 L717.5 510.2 L719.5 510.4 L721.5 510.7 L723.5 510.9 L725.5 511 L727.5 511.2 L729.5 511.3 L731.5 511.3 L733.5 511.4 L735.5 511.4 L737.5 511.3 L739.5 511.3 L741.5 511.2 L743.5 511.1 L745.5 511 L747.5 510.9 L749.5 510.7 L751.5 510.6 L753.5 510.4 L755.5 510.2 L757.5 510.1 L759.5 509.9 L761.5 509.7" stroke="#0000ff" stroke-width="5" />
<path d="M124.5 410.2L137.5 410.2L131 399Z" fill="#0000ff"/>
<path d="M225.4 411.2L238.4 411.2L231.9 400Z" fill="#0000ff"/>
<path d="M376.7 288.4L389.7 288.4L383.2 277.2Z" fill="#0000ff"/>
<path d="M427.1 367.2L440.1 367.2L433.6 356Z" fill="#0000ff"/>
<path d="M528 345.6L541 345.6L534.5 334.4Z" fill="#0000ff"/>
<path d="M603.7 417.5L616.7 417.5L610.2 406.3Z" fill="#0000ff"/>
<path d="M679.3 502.6L692.3 502.6L685.8 491.4Z" fill="#0000ff"/>
<path d="M755 513.9L768 513.9L761.5 502.7Z" fill="#0000ff"/>
<path d="M131 443.4 L133 444.6 L135 445.9 L137 447.1 L139 448.4 L141 449.6 L143 450.8 L145 452 L147 453.2 L149 454.4 L151 455.5 L153 456.7 L155 457.8 L157 458.9 L159 460 L161 461 L163 462 L165 463 L167 464 L169 464.9 L171 465.8 L173 466.6 L175 467.4 L177 468.2 L179 468.9 L181 469.6 L183 470.2 L185 470.8 L187 471.3 L189 471.8 L191 472.2 L193 472.6 L195.1 472.9 L197.1 473.1 L199.1 473.3 L201.1 473.4 L203.1 473.5 L205.1 473.4 L207.1 473.3 L209.1 473.2 L211.1 472.9 L213.1 472.6 L215.1 472.2 L217.1 471.8 L219.1 471.2 L221.1 470.6 L223.1 469.8 L225.1 469 L227.1 468.1 L229.1 467.1 L231.1 466.1 L233.1 464.9 L235.1 463.6 L237.1 462.2 L239.1 460.8 L241.1 459.3 L243.1 457.7 L245.1 456 L247.1 454.2 L249.1 452.4 L251.1 450.5 L253.1 448.6 L255.1 446.5 L257.1 444.5 L259.1 442.4 L261.1 440.2 L263.1 438.1 L265.1 435.8 L267.1 433.6 L269.1 431.3 L271.1 429 L273.1 426.6 L275.1 424.3 L277.1 421.9 L279.1 419.5 L281.1 417.1 L283.1 414.8 L285.1 412.4 L287.1 410 L289.1 407.6 L291.1 405.2 L293.1 402.9 L295.1 400.6 L297.1 398.3 L299.1 396 L301.1 393.7 L303.1 391.5 L305.1 389.3 L307.1 387.2 L309.1 385.1 L311.1 383.1 L313.1 381.1 L315.1 379.2 L317.1 377.3 L319.1 375.5 L321.2 373.8 L323.2 372.1 L325.2 370.5 L327.2 369 L329.2 367.6 L331.2 366.3 L333.2 365 L335.2 363.9 L337.2 362.9 L339.2 361.9 L341.2 361.1 L343.2 360.3 L345.2 359.7 L347.2 359.2 L349.2 358.9 L351.2 358.6 L353.2 358.5 L355.2 358.5 L357.2 358.6 L359.2 358.9 L361.2 359.4 L363.2 359.9 L365.2 360.7 L367.2 361.6 L369.2 362.6 L371.2 363.8 L373.2 365.2 L375.2 366.7 L377.2 368.5 L379.2 370.4 L381.2 372.4 L383.2 374.7 L385.2 377.2 L387.2 379.8 L389.2 382.6 L391.2 385.5 L393.2 388.6 L395.2 391.8 L397.2 395 L399.2 398.4 L401.2 401.9 L403.2 405.4 L405.2 409 L407.2 412.6 L409.2 416.2 L411.2 419.8 L413.2 423.5 L415.2 427.1 L417.2 430.6 L419.2 434.1 L421.2 437.6 L423.2 441 L425.2 444.2 L427.2 447.4 L429.2 450.5 L431.2 453.4 L433.2 456.2 L435.2 458.8 L437.2 461.2 L439.2 463.5 L441.2 465.6 L443.2 467.6 L445.2 469.5 L447.3 471.2 L449.3 472.8 L451.3 474.2 L453.3 475.5 L455.3 476.7 L457.3 477.8 L459.3 478.7 L461.3 479.6 L463.3 480.3 L465.3 481 L467.3 481.5 L469.3 482 L471.3 482.4 L473.3 482.7 L475.3 482.9 L477.3 483 L479.3 483.1 L481.3 483.1 L483.3 483.1 L485.3 483 L487.3 482.9 L489.3 482.7 L491.3 482.4 L493.3 482.2 L495.3 481.9 L497.3 481.5 L499.3 481.2 L501.3 480.8 L503.3 480.4 L505.3 480 L507.3 479.6 L509.3 479.2 L511.3 478.8 L513.3 478.4 L515.3 478.1 L517.3 477.7 L519.3 477.4 L521.3 477.1 L523.3 476.8 L525.3 476.5 L527.3 476.3 L529.3 476.2 L531.3 476.1 L533.3 476 L535.3 476 L537.3 476.1 L539.3 476.2 L541.3 476.4 L543.3 476.6 L545.3 476.9 L547.3 477.2 L549.3 477.6 L551.3 478.1 L553.3 478.6 L555.3 479.1 L557.3 479.7 L559.3 480.4 L561.3 481 L563.3 481.8 L565.3 482.6 L567.3 483.4 L569.3 484.3 L571.3 485.2 L573.4 486.1 L575.4 487.1 L577.4 488.2 L579.4 489.2 L581.4 490.3 L583.4 491.5 L585.4 492.7 L587.4 493.9 L589.4 495.1 L591.4 496.4 L593.4 497.7 L595.4 499 L597.4 500.4 L599.4 501.8 L601.4 503.2 L603.4 504.6 L605.4 506.1 L607.4 507.6 L609.4 509.1 L611.4 510.6 L613.4 512.2 L615.4 513.7 L617.4 515.3 L619.4 516.9 L621.4 518.5 L623.4 520.1 L625.4 521.7 L627.4 523.3 L629.4 525 L631.4 526.6 L633.4 528.2 L635.4 529.8 L637.4 531.4 L639.4 533 L641.4 534.6 L643.4 536.1 L645.4 537.7 L647.4 539.2 L649.4 540.7 L651.4 542.2 L653.4 543.7 L655.4 545.1 L657.4 546.5 L659.4 547.9 L661.4 549.2 L663.4 550.5 L665.4 551.8 L667.4 553 L669.4 554.2 L671.4 555.3 L673.4 556.4 L675.4 557.5 L677.4 558.5 L679.4 559.4 L681.4 560.3 L683.4 561.1 L685.4 561.9 L687.4 562.6 L689.4 563.2 L691.4 563.8 L693.4 564.3 L695.4 564.7 L697.4 565.1 L699.5 565.5 L701.5 565.8 L703.5 566 L705.5 566.2 L707.5 566.4 L709.5 566.5 L711.5 566.6 L713.5 566.6 L715.5 566.6 L717.5 566.5 L719.5 566.4 L721.5 566.3 L723.5 566.2 L725.5 566 L727.5 565.7 L729.5 565.5 L731.5 565.2 L733.5 564.9 L735.5 564.6 L737.5 564.2 L739.5 563.9 L741.5 563.5 L743.5 563.1 L745.5 562.7 L747.5 562.2 L749.5 561.8 L751.5 561.4 L753.5 560.9 L755.5 560.4 L757.5 560 L759.5 559.5 L761.5 559" stroke="#0000ff" stroke-width="5" stroke-dasharray="14.64 12.49 0.01 12.49"/>
<path d="M124.5 439.2L137.5 439.2L131 450.4Z" fill="#0000ff"/>
<path d="M225.4 461.4L238.4 461.4L231.9 472.6Z" fill="#0000ff"/>
<path d="M376.7 370.5L389.7 370.5L383.2 381.7Z" fill="#0000ff"/>
<path d="M427.1 452.5L440.1 452.5L433.6 463.7Z" fill="#0000ff"/>
<path d="M528 471.8L541 471.8L534.5 483Z" fill="#0000ff"/>
<path d="M603.7 505.5L616.7 505.5L610.2 516.7Z" fill="#0000ff"/>
<path d="M679.3 557.8L692.3 557.8L685.8 569Z" fill="#0000ff"/>
<path d="M755 554.8L768 554.8L761.5 566Z" fill="#0000ff"/>
</g>
<g stroke="#000" stroke-width="3.6" fill="none" stroke-linecap="butt">
<path d="M131.0 63.5V574.3000000000001M761.5 63.5V574.3000000000001M129.3 65.2H763.2M129.3 572.6H763.2"/>
<path d="M131.0 536.8h-9.8M131.0 464.1h-9.8M131.0 391.5h-9.8M131.0 318.8h-9.8M131.0 246.2h-9.8M131.0 173.5h-9.8M131.0 100.9h-9.8M131.0 572.6h-5M131.0 500.5h-5M131.0 427.8h-5M131.0 355.2h-5M131.0 282.5h-5M131.0 209.9h-5M131.0 137.2h-5M131.0 65.2h-5M761.5 521.5h9.8M761.5 420h9.8M761.5 318.5h9.8M761.5 217h9.8M761.5 115.5h9.8M761.5 572.2h5M761.5 470.7h5M761.5 369.2h5M761.5 267.7h5M761.5 166.2h5M761.5 65.2h5M131 572.6v9.8M257.1 572.6v9.8M383.2 572.6v9.8M509.3 572.6v9.8M635.4 572.6v9.8M761.5 572.6v9.8M257.1 65.2v9.8M383.2 65.2v9.8M509.3 65.2v9.8M635.4 65.2v9.8M194.1 572.6v5M194.1 65.2v5M320.1 572.6v5M320.1 65.2v5M446.2 572.6v5M446.2 65.2v5M572.4 572.6v5M572.4 65.2v5M698.5 572.6v5M698.5 65.2v5"/>
</g>
<g class="tk" fill="#000">
<text transform="translate(113.5 545.7) scale(1 1.04)" text-anchor="end">6.0</text>
<text transform="translate(113.5 473.27) scale(1 1.04)" text-anchor="end">6.5</text>
<text transform="translate(113.5 400.83) scale(1 1.04)" text-anchor="end">7.0</text>
<text transform="translate(113.5 328.4) scale(1 1.04)" text-anchor="end">7.5</text>
<text transform="translate(113.5 255.97) scale(1 1.04)" text-anchor="end">8.0</text>
<text transform="translate(113.5 183.53) scale(1 1.04)" text-anchor="end">8.5</text>
<text transform="translate(113.5 111.1) scale(1 1.04)" text-anchor="end">9.0</text>
<text transform="translate(778.5 530.5) scale(1 1.04)">0.82</text>
<text transform="translate(778.5 429) scale(1 1.04)">0.84</text>
<text transform="translate(778.5 327.5) scale(1 1.04)">0.86</text>
<text transform="translate(778.5 226) scale(1 1.04)">0.88</text>
<text transform="translate(778.5 124.5) scale(1 1.04)">0.90</text>
<text transform="translate(131 614.3) scale(1 1.04)" text-anchor="middle">20</text>
<text transform="translate(257.1 614.3) scale(1 1.04)" text-anchor="middle">25</text>
<text transform="translate(383.2 614.3) scale(1 1.04)" text-anchor="middle">30</text>
<text transform="translate(509.3 614.3) scale(1 1.04)" text-anchor="middle">35</text>
<text transform="translate(635.4 614.3) scale(1 1.04)" text-anchor="middle">40</text>
<text transform="translate(761.5 614.3) scale(1 1.04)" text-anchor="middle">45</text>
</g>
<text transform="translate(446.2 667.6) scale(1 1.04)" text-anchor="middle" class="ti">Frequency (GHz)</text>
<text transform="translate(440.3 724.5) scale(1 1.04)" text-anchor="middle" font-size="35">(a)</text>
<text transform="translate(57.5 319.5) rotate(-90)" text-anchor="middle" font-size="31">Peak Gain [dBi]</text>
<text transform="translate(872 318.5) rotate(-90)" text-anchor="middle" font-size="31">Rad<tspan font-size="21" dy="-11">n</tspan><tspan dy="11" dx="-1"> Eff.</tspan></text>
<g id="legend-a" class="lg">
<path d="M8 14.5H60.3" stroke="#000000" stroke-width="5" stroke-linecap="round" fill="none"/>
<rect x="29.2" y="9.7" width="9.6" height="9.6" fill="#000000"/>
<text transform="translate(67.3 22.8) scale(1 1.01)">Port 1 (Sim.)</text>
<path d="M198.4 14.5H212.0M237.3 14.5H250.9" stroke="#000000" stroke-width="5" stroke-linecap="round" fill="none"/>
<circle cx="224.2" cy="14.5" r="5.8" fill="#000000"/>
<text transform="translate(257.1 22.8) scale(1 1.01)">Port 1 (Mes.)</text>
<path d="M391.3 14.5H443.5" stroke="#800000" stroke-width="5" stroke-linecap="round" fill="none"/>
<path d="M410.9 18.7L423.9 18.7L417.4 7.5Z" fill="#800000"/>
<text transform="translate(449.5 22.8) scale(1 1.01)">Port 2 (Sim.)</text>
<path d="M581.2 14.5H594.8000000000001M620.1999999999999 14.5H633.8" stroke="#800000" stroke-width="5" stroke-linecap="round" fill="none"/>
<path d="M600.1 10.3L613.1 10.3L606.6 21.5Z" fill="#800000"/>
<text transform="translate(640.1 22.8) scale(1 1.01)">Port 2 (Mes.)</text>
<path d="M8 47.5H60.3" stroke="#ff0000" stroke-width="5" stroke-linecap="round" fill="none"/>
<rect x="29.2" y="42.7" width="9.6" height="9.6" fill="#ff0000"/>
<text transform="translate(67.3 55.8) scale(1 1.01)">Port 1 (Sim.)</text>
<path d="M198.4 47.5H212.0M237.3 47.5H250.9" stroke="#ff0000" stroke-width="5" stroke-linecap="round" fill="none"/>
<circle cx="224.2" cy="47.5" r="5.8" fill="#ff0000"/>
<text transform="translate(257.1 55.8) scale(1 1.01)">Port 1 (Mes.)</text>
<path d="M391.3 47.5H443.5" stroke="#0000ff" stroke-width="5" stroke-linecap="round" fill="none"/>
<path d="M410.9 51.7L423.9 51.7L417.4 40.5Z" fill="#0000ff"/>
<text transform="translate(449.5 55.8) scale(1 1.01)">Port 2 (Sim.)</text>
<path d="M581.2 47.5H594.8000000000001M620.1999999999999 47.5H633.8" stroke="#0000ff" stroke-width="5" stroke-linecap="round" fill="none"/>
<path d="M600.1 43.3L613.1 43.3L606.6 54.5Z" fill="#0000ff"/>
<text transform="translate(640.1 55.8) scale(1 1.01)">Port 2 (Mes.)</text>
<text transform="translate(773 22.8) scale(1 1.04)" font-weight="normal">-</text>
<text transform="translate(781.3 22.5) scale(1 1.04)" class="it">Peak Gain</text>
<text transform="translate(773 55.8) scale(1 1.04)" font-weight="normal">-</text>
<text transform="translate(787.2 55.5) scale(1 1.04)" class="it">Rad<tspan font-size="16" dy="-9" dx="-0.5">n</tspan><tspan dy="9" dx="1"> Eff.</tspan></text>
</g>
</g>
<g id="chart-b">
<path d="M1070.6 61.7V569.6M1196.7 61.7V569.6M1322.8 61.7V569.6M1448.9 61.7V569.6M1575 61.7V569.6" stroke="#d2d2d2" stroke-width="1" stroke-dasharray="2.5 2.5" fill="none"/>
<path d="M1007.6 537.7H1638M1007.6 474.3H1638M1007.6 410.9H1638M1007.6 347.5H1638M1007.6 284.1H1638M1007.6 220.7H1638M1007.6 157.3H1638M1007.6 93.9H1638" stroke="#d2d2d2" stroke-width="1.2" stroke-dasharray="2.5 2.5" fill="none"/>
<path d="M1133.7 61.7V569.6M1259.8 61.7V569.6M1385.8 61.7V569.6M1511.9 61.7V569.6" stroke="#858585" stroke-width="1.2" stroke-dasharray="7.5 3 1.8 3" stroke-dashoffset="-6.1" fill="none"/>
<path d="M1007.6 506H1638M1007.6 442.6H1638M1007.6 379.2H1638M1007.6 315.8H1638M1007.6 252.4H1638M1007.6 189H1638M1007.6 125.6H1638" stroke="#858585" stroke-width="1.4" stroke-dasharray="7.5 3 1.8 3" fill="none"/>
<g clip-path="url(#cb)" fill="none" stroke-linecap="round" stroke-linejoin="round">
<path d="M1007.6 494.5 L1008.4 494.4 L1009.2 494.3 L1009.9 494.2 L1010.7 494.1 L1011.5 494 L1012.3 493.9 L1013.1 493.7 L1013.8 493.6 L1014.6 493.4 L1015.4 493.3 L1016.2 493.1 L1017 492.9 L1017.8 492.7 L1018.5 492.5 L1019.3 492.3 L1020.1 492.1 L1020.9 491.9 L1021.7 491.7 L1022.4 491.5 L1023.2 491.2 L1024 491 L1024.8 490.8 L1025.5 490.5 L1026.3 490.2 L1027.1 489.9 L1027.9 489.6 L1028.7 489.3 L1029.4 488.9 L1030.2 488.6 L1031 488.2 L1031.8 487.8 L1032.5 487.4 L1033.3 487 L1034.1 486.7 L1034.9 486.3 L1035.6 485.9 L1036.4 485.5 L1037.2 485.1 L1038 484.7 L1038.8 484.4 L1039.6 484 L1040.4 483.5 L1041.2 483 L1042 482.5 L1042.8 481.9 L1043.5 481.3 L1044.2 480.6 L1045 479.8 L1045.8 479 L1046.5 478.1 L1047.2 477.2 L1048 476.2 L1048.8 475.1 L1049.5 474 L1050.2 472.8 L1051 471.5 L1051.8 470 L1052.6 468.4 L1053.3 466.5 L1054.1 464.5 L1054.9 462.3 L1055.7 459.9 L1056.4 457.4 L1057.2 454.8 L1058 452 L1058.8 449.2 L1059.5 446.1 L1060.2 442.5 L1061 438 L1061.6 432.8 L1062.2 426.1 L1062.9 418.6 L1063.5 411 L1064.1 403.8 L1064.8 396.4 L1065.4 388.3 L1066 379 L1066.8 360.9 L1067.6 345 L1068.1 339.9 L1068.6 337.5 L1069.3 340.1 L1070 345 L1070.7 349.9 L1071.3 355.7 L1072 362 L1072.8 369.9 L1073.5 378.6 L1074.2 387.6 L1075 396 L1075.7 404 L1076.5 412.2 L1077.2 419.9 L1078 426.9 L1078.7 432.6 L1079.4 437.2 L1080.1 441.3 L1080.8 444.7 L1081.5 447 L1082.2 448.5 L1082.9 449.8 L1083.6 450.8 L1084.3 451.7 L1085 452.5 L1085.8 453.4 L1086.6 454.1 L1087.3 454.8 L1088.1 455.4 L1088.9 456 L1089.7 456.5 L1090.5 457.1 L1091.3 457.7 L1092.1 458.3 L1092.8 459 L1093.6 459.7 L1094.4 460.6 L1095.1 461.6 L1095.8 462.9 L1096.6 464.2 L1097.3 465.5 L1098 466.6 L1098.7 467.5 L1099.5 468.2 L1100.2 468.9 L1100.9 469.6 L1101.7 470.2 L1102.4 470.8 L1103.1 471.5 L1103.8 472.2 L1104.6 473 L1105.3 474 L1106.1 475.1 L1106.8 476.4 L1107.6 477.8 L1108.3 479.4 L1109.1 481.2 L1109.9 483.3 L1110.6 485.6 L1111.4 488.4 L1112.2 494.3 L1113 502.1 L1113.8 506 L1114.5 496.5 L1115.1 472.3 L1115.8 440 L1116.5 383.5 L1117.2 300 L1117.8 187.2 L1118.3 109.6 L1118.8 183.6 L1119.4 300 L1119.9 381 L1120.4 440 L1121.2 476 L1122 487.2 L1122.7 494.5 L1123.5 497 L1124.3 496.4 L1125 494.7 L1125.8 492.4 L1126.6 489.7 L1127.4 487.1 L1128.1 484.7 L1128.9 483 L1129.7 481.7 L1130.5 480.4 L1131.3 479.2 L1132 478.1 L1132.8 477.3 L1133.6 476.7 L1134.4 476.5 L1135.2 476.6 L1136 477 L1136.8 477.6 L1137.6 478.3 L1138.4 479.1 L1139.2 480 L1140 481.6 L1140.8 484.1 L1141.6 486.9 L1142.4 489.7 L1143.2 491.7 L1144 492.5 L1144.8 492.4 L1145.5 492.3 L1146.2 492 L1147 491.8 L1147.8 491.5 L1148.5 491.3 L1149.2 491.1 L1150 491 L1150.7 491 L1151.5 490.9 L1152.2 490.9 L1153 490.9 L1153.7 490.9 L1154.5 490.9 L1155.2 490.9 L1156 490.8 L1156.7 490.8 L1157.5 490.8 L1158.2 490.8 L1159 490.8 L1159.7 490.8 L1160.5 490.8 L1161.2 490.8 L1162 490.8 L1162.8 490.9 L1163.6 490.9 L1164.4 491 L1165.2 491.1 L1166 491.2 L1166.8 491.3 L1167.6 491.4 L1168.4 491.4 L1169.2 491.5 L1170 491.5 L1170.8 491.5 L1171.5 491.3 L1172.3 491.2 L1173.1 490.9 L1173.8 490.7 L1174.6 490.4 L1175.4 490 L1176.2 489.7 L1176.9 489.3 L1177.7 489 L1178.5 488.6 L1179.2 488.3 L1180 488 L1180.8 487.7 L1181.5 487.4 L1182.3 487 L1183 486.7 L1183.8 486.3 L1184.6 485.9 L1185.3 485.6 L1186.1 485.2 L1186.9 484.9 L1187.6 484.5 L1188.4 484.2 L1189.2 484 L1189.9 483.8 L1190.7 483.6 L1191.4 483.5 L1192.2 483.5 L1193 483.5 L1193.8 483.6 L1194.6 483.6 L1195.4 483.7 L1196.2 483.9 L1197 484 L1197.8 484.1 L1198.6 484.3 L1199.4 484.5 L1200.2 484.6 L1201 484.8 L1201.8 485 L1202.6 485.1 L1203.4 485.3 L1204.2 485.4 L1205 485.5 L1205.8 485.6 L1206.6 485.7 L1207.4 485.8 L1208.2 485.9 L1209 486 L1209.8 486 L1210.6 486.1 L1211.4 486.2 L1212.2 486.3 L1213 486.3 L1213.8 486.4 L1214.5 486.5 L1215.3 486.6 L1216.1 486.6 L1216.9 486.7 L1217.7 486.8 L1218.5 486.9 L1219.3 487 L1220.1 487.1 L1220.9 487.2 L1221.7 487.3 L1222.5 487.4 L1223.3 487.5 L1224.1 487.6 L1224.8 487.8 L1225.6 487.9 L1226.3 488.1 L1227.1 488.3 L1227.9 488.5 L1228.6 488.7 L1229.4 488.9 L1230.2 489.1 L1230.9 489.3 L1231.7 489.6 L1232.4 489.8 L1233.2 490 L1234 490.2 L1234.7 490.4 L1235.5 490.6 L1236.2 490.8 L1237 491 L1237.8 491.2 L1238.5 491.3 L1239.3 491.5 L1240 491.6 L1240.8 491.8 L1241.6 491.9 L1242.3 492 L1243.1 492.1 L1243.8 492.3 L1244.6 492.4 L1245.4 492.5 L1246.1 492.7 L1246.9 492.8 L1247.6 493 L1248.4 493.1 L1249.2 493.3 L1249.9 493.5 L1250.7 493.7 L1251.4 494 L1252.2 494.2 L1253 494.5 L1253.7 494.9 L1254.5 495.3 L1255.2 495.8 L1256 496.4 L1256.7 496.9 L1257.5 497.5 L1258.2 498.2 L1259 498.8 L1259.7 499.4 L1260.5 500 L1261.2 500.5 L1262 501 L1262.8 501.5 L1263.5 502.1 L1264.2 502.7 L1265 503.2 L1265.8 503.7 L1266.5 504.1 L1267.2 504.4 L1268 504.5 L1268.8 504.4 L1269.6 504.2 L1270.3 503.9 L1271.1 503.5 L1271.9 503 L1272.7 502.5 L1273.4 502 L1274.2 501.5 L1275 501 L1275.7 500.5 L1276.5 500 L1277.2 499.4 L1277.9 498.7 L1278.7 498.1 L1279.4 497.4 L1280.2 496.8 L1280.9 496.2 L1281.6 495.7 L1282.4 495.2 L1283.1 494.8 L1283.9 494.4 L1284.7 494.1 L1285.5 493.8 L1286.2 493.5 L1287 493.2 L1287.8 492.9 L1288.6 492.6 L1289.4 492.4 L1290.2 492.1 L1290.9 491.9 L1291.7 491.7 L1292.5 491.4 L1293.3 491.2 L1294.1 491 L1294.9 490.8 L1295.6 490.6 L1296.4 490.4 L1297.2 490.2 L1298 490 L1298.8 489.8 L1299.6 489.6 L1300.4 489.4 L1301.2 489.2 L1302 489 L1302.8 488.8 L1303.6 488.6 L1304.4 488.4 L1305.2 488.2 L1306 488 L1306.7 487.9 L1307.5 487.7 L1308.3 487.5 L1309.1 487.4 L1309.9 487.2 L1310.7 487.1 L1311.5 486.9 L1312.3 486.8 L1313.1 486.6 L1313.9 486.5 L1314.7 486.4 L1315.4 486.3 L1316.2 486.2 L1317 486.1 L1317.7 486 L1318.5 485.9 L1319.3 485.8 L1320 485.7 L1320.8 485.7 L1321.6 485.6 L1322.3 485.5 L1323.1 485.4 L1323.9 485.3 L1324.6 485.3 L1325.4 485.2 L1326.2 485.1 L1326.9 485 L1327.7 484.9 L1328.5 484.8 L1329.2 484.6 L1330 484.5 L1330.8 484.4 L1331.5 484.3 L1332.3 484.2 L1333.1 484 L1333.9 483.9 L1334.6 483.7 L1335.4 483.5 L1336.2 483.3 L1337 482.9 L1337.7 482.5 L1338.5 482 L1339.2 476 L1339.9 461 L1340.6 440 L1341.2 405.1 L1341.7 351.5 L1342.3 300 L1343 236.1 L1343.7 199 L1344.3 238.2 L1345 300 L1345.8 355.5 L1346.6 400 L1347.3 425 L1348 445 L1348.5 458.9 L1349 470 L1349.8 482.1 L1350.6 489 L1351.3 491.5 L1352 493.4 L1352.8 494.6 L1353.5 495 L1354.2 494.8 L1355 494.3 L1355.8 493.5 L1356.5 492.7 L1357.2 491.8 L1358 491 L1358.8 490.2 L1359.6 489.4 L1360.4 488.5 L1361.2 487.6 L1362 486.7 L1362.8 485.9 L1363.6 485 L1364.4 484.3 L1365.2 483.6 L1366 483 L1366.8 482.5 L1367.6 482.1 L1368.3 481.6 L1369.1 481.2 L1369.9 480.9 L1370.7 480.5 L1371.5 480.2 L1372.2 479.9 L1373 479.5 L1373.8 479.2 L1374.6 478.9 L1375.4 478.6 L1376.1 478.2 L1376.9 477.9 L1377.7 477.5 L1378.5 477.1 L1379.2 476.7 L1380 476.4 L1380.7 476 L1381.5 475.6 L1382.2 475.2 L1383 474.8 L1383.7 474.4 L1384.5 474 L1385.2 473.6 L1386 473.2 L1386.7 472.8 L1387.5 472.4 L1388.2 471.9 L1389 471.5 L1389.8 471 L1390.6 470.5 L1391.4 469.9 L1392.1 469.3 L1392.9 468.7 L1393.7 468.1 L1394.5 467.5 L1395.3 466.9 L1396.1 466.3 L1396.9 465.8 L1397.6 465.3 L1398.4 464.8 L1399.2 464.4 L1400 464 L1400.7 463.7 L1401.5 463.4 L1402.2 463.1 L1403 462.7 L1403.7 462.5 L1404.5 462.2 L1405.2 462 L1406 461.8 L1406.7 461.6 L1407.5 461.5 L1408.2 461.5 L1408.9 461.5 L1409.7 461.6 L1410.4 461.7 L1411.1 461.8 L1411.8 461.9 L1412.5 462.1 L1413.3 462.3 L1414 462.5 L1414.8 462.8 L1415.6 463.3 L1416.4 463.9 L1417.2 464.7 L1418 465.5 L1418.8 466.4 L1419.6 467.3 L1420.4 468.3 L1421.2 469.2 L1422 470 L1422.8 470.8 L1423.5 471.7 L1424.2 472.6 L1425 473.5 L1425.8 474.5 L1426.5 475.4 L1427.2 476.3 L1428 477.2 L1428.8 478 L1429.5 478.8 L1430.2 479.5 L1431 480 L1431.8 480.5 L1432.6 481 L1433.4 481.6 L1434.2 482 L1434.9 482.4 L1435.7 482.7 L1436.5 482.9 L1437.3 483 L1438.1 483 L1438.8 482.9 L1439.6 482.9 L1440.4 482.7 L1441.1 482.6 L1441.9 482.5 L1442.7 482.3 L1443.4 482.1 L1444.2 481.9 L1444.9 481.8 L1445.7 481.6 L1446.5 481.4 L1447.2 481.2 L1448 481 L1448.8 480.8 L1449.5 480.6 L1450.3 480.3 L1451.1 480 L1451.8 479.7 L1452.6 479.4 L1453.4 479.1 L1454.2 478.8 L1454.9 478.5 L1455.7 478.3 L1456.5 478.1 L1457.2 478 L1458 478 L1458.8 478.3 L1459.5 478.9 L1460.2 480 L1461 481.3 L1461.8 482.7 L1462.5 484.2 L1463.2 485.7 L1464 487 L1464.7 488.2 L1465.4 489.5 L1466 490.8 L1466.7 492.1 L1467.4 493.3 L1468.1 494.5 L1468.9 495.7 L1469.7 496.8 L1470.4 497.9 L1471.2 499 L1472 500 L1472.6 500.9 L1473.2 501.9 L1473.9 502.7 L1474.5 503 L1475.2 482.5 L1475.8 440 L1476.5 370 L1477 319.5 L1477.8 370 L1478.4 409.6 L1479 440 L1479.6 457.7 L1480.2 472.2 L1480.9 482.4 L1481.5 487 L1482.2 488.6 L1483 489.8 L1483.8 490.8 L1484.5 491.5 L1485.2 491.9 L1486 492 L1486.8 491.9 L1487.5 491.6 L1488.2 491.3 L1489 490.8 L1489.8 490.3 L1490.5 489.8 L1491.2 489.4 L1492 489 L1492.8 488.7 L1493.6 488.3 L1494.3 488 L1495.1 487.6 L1495.9 487.3 L1496.7 487 L1497.4 486.8 L1498.2 486.7 L1499 486.6 L1499.8 486.6 L1500.5 486.7 L1501.2 486.8 L1502 486.9 L1502.8 487.1 L1503.5 487.3 L1504.2 487.6 L1505 487.8 L1505.8 488.1 L1506.5 488.4 L1507.2 488.7 L1508 489 L1508.8 489.4 L1509.6 490 L1510.4 490.8 L1511.2 491.6 L1512 492.5 L1512.8 493.5 L1513.6 494.5 L1514.4 495.4 L1515.2 496.2 L1516 497 L1516.8 497.7 L1517.6 498.5 L1518.3 499.2 L1519.1 499.9 L1519.9 500.6 L1520.7 501.3 L1521.4 501.8 L1522.2 502.2 L1523 502.5 L1523.8 502.7 L1524.5 502.9 L1525.3 503 L1526 503.1 L1526.8 503.3 L1527.5 503.4 L1528.3 503.4 L1529 503.5 L1529.8 503.5 L1530.6 503.5 L1531.3 503.5 L1532.1 503.4 L1532.8 503.4 L1533.6 503.3 L1534.4 503.3 L1535.1 503.2 L1535.9 503.1 L1536.6 503 L1537.4 502.9 L1538.2 502.8 L1538.9 502.7 L1539.7 502.6 L1540.4 502.5 L1541.2 502.4 L1542 502.3 L1542.7 502.2 L1543.5 502.1 L1544.2 502.1 L1545 502 L1545.8 501.9 L1546.6 501.9 L1547.3 501.8 L1548.1 501.8 L1548.9 501.8 L1549.7 501.7 L1550.5 501.7 L1551.2 501.7 L1552 501.6 L1552.8 501.6 L1553.6 501.6 L1554.4 501.5 L1555.1 501.5 L1555.9 501.4 L1556.7 501.4 L1557.5 501.3 L1558.3 501.3 L1559 501.2 L1559.8 501.1 L1560.6 501 L1561.4 500.9 L1562.1 500.6 L1562.9 500.3 L1563.7 499.9 L1564.5 499.4 L1565.2 498.8 L1566 498 L1566.7 496.5 L1567.4 493.7 L1568.1 489.8 L1568.8 485.1 L1569.5 480 L1570.1 473 L1570.7 464.1 L1571.3 458 L1571.8 455.3 L1572.4 454 L1573 457 L1573.5 462 L1574.1 466.8 L1574.8 471.8 L1575.4 476.4 L1576 480 L1576.8 483.5 L1577.6 486.7 L1578.4 489.4 L1579.2 491.5 L1580 493 L1580.7 494 L1581.4 494.9 L1582.1 495.6 L1582.9 496.3 L1583.6 496.8 L1584.3 497.2 L1585 497.5 L1585.7 497.7 L1586.4 497.8 L1587.2 498 L1587.9 498.1 L1588.6 498.2 L1589.3 498.2 L1590.1 498.3 L1590.8 498.4 L1591.5 498.5 L1592.3 498.6 L1593.1 498.7 L1593.9 498.8 L1594.7 498.9 L1595.5 499 L1596.3 499.1 L1597.1 499.2 L1597.9 499.3 L1598.6 499.4 L1599.4 499.5 L1600.2 499.6 L1601 499.7 L1601.8 499.8 L1602.6 499.8 L1603.4 499.9 L1604.2 500 L1605 500 L1605.8 500 L1606.6 500.1 L1607.4 500.1 L1608.1 500.1 L1608.9 500.1 L1609.7 500.2 L1610.5 500.2 L1611.3 500.2 L1612.1 500.2 L1612.9 500.2 L1613.7 500.2 L1614.4 500.3 L1615.2 500.3 L1616 500.3 L1616.8 500.3 L1617.6 500.3 L1618.4 500.4 L1619.2 500.4 L1619.9 500.4 L1620.7 500.4 L1621.5 500.5 L1622.3 500.5 L1623.1 500.5 L1623.9 500.6 L1624.7 500.7 L1625.4 500.7 L1626.2 500.8 L1627 500.9 L1627.8 501 L1628.6 501.2 L1629.4 501.3 L1630.2 501.4 L1630.9 501.6 L1631.7 501.7 L1632.5 501.8 L1633.3 502 L1634.1 502.2 L1634.9 502.3 L1635.6 502.5 L1636.4 502.7 L1637.2 502.8 L1638 503" stroke="#000000" stroke-width="3.8" />
<rect x="1031.2" y="480.3" width="10.4" height="10.4" fill="#000000"/>
<rect x="1063.5" y="333" width="10.4" height="10.4" fill="#000000"/>
<rect x="1092.8" y="461.4" width="10.4" height="10.4" fill="#000000"/>
<rect x="1123.7" y="477.8" width="10.4" height="10.4" fill="#000000"/>
<rect x="1156" y="485.6" width="10.4" height="10.4" fill="#000000"/>
<rect x="1187" y="478.3" width="10.4" height="10.4" fill="#000000"/>
<rect x="1218.1" y="482.3" width="10.4" height="10.4" fill="#000000"/>
<rect x="1247" y="489" width="10.4" height="10.4" fill="#000000"/>
<rect x="1277.9" y="489.6" width="10.4" height="10.4" fill="#000000"/>
<rect x="1308.7" y="481.3" width="10.4" height="10.4" fill="#000000"/>
<rect x="1344" y="468.8" width="10.4" height="10.4" fill="#000000"/>
<rect x="1372.5" y="472.3" width="10.4" height="10.4" fill="#000000"/>
<rect x="1403" y="456.3" width="10.4" height="10.4" fill="#000000"/>
<rect x="1432.1" y="477.8" width="10.4" height="10.4" fill="#000000"/>
<rect x="1462.9" y="489.3" width="10.4" height="10.4" fill="#000000"/>
<rect x="1493.8" y="481.4" width="10.4" height="10.4" fill="#000000"/>
<rect x="1524.6" y="498.3" width="10.4" height="10.4" fill="#000000"/>
<rect x="1555.4" y="495.8" width="10.4" height="10.4" fill="#000000"/>
<rect x="1586.3" y="493.3" width="10.4" height="10.4" fill="#000000"/>
<rect x="1617.1" y="495.3" width="10.4" height="10.4" fill="#000000"/>
<rect x="1632.8" y="497.8" width="10.4" height="10.4" fill="#000000"/>
<path d="M1007.6 500.5 L1012 496.5 L1025 496.5 L1036.3 498.1 L1042 502 L1046 505.5 L1048.4 496 L1052 470 L1055.1 448.5 L1057.5 480 L1059.3 501.7 L1060.5 489.6 L1063 472 L1065.4 464.5 L1070.2 474 L1078.7 489.6 L1084.7 491.5 L1095.6 486.3 L1100.5 470.3 L1104.1 440 L1107 390 L1109.9 328.4 L1111.3 345 L1113.2 363.5 L1117 369.5 L1120.5 400 L1121.8 440 L1122.6 476.3 L1123.5 486 L1127 497 L1130.1 505.4 L1133 499 L1136.8 492 L1145.3 480 L1148.9 488.4 L1155 504.5 L1159.8 495 L1169.5 488.4 L1184 486.6 L1198 486 L1212.6 485.7 L1228 486.5 L1242.9 488.1 L1258 496 L1271.4 504.5 L1282 506.5 L1290 500 L1301 492.4 L1315 489 L1330.5 488 L1337 489.5 L1340 496 L1342.5 501 L1346.2 440 L1350.4 371 L1352.8 440 L1354.6 482 L1357 500 L1360.3 491 L1363.6 486.6 L1371.2 481.2 L1381 476.8 L1389.7 472.5 L1398.4 465 L1408.2 460 L1414.8 461.6 L1419.7 464.9 L1424.6 472.5 L1432.2 479 L1439.8 481.2 L1448.9 476.3 L1461 476.5 L1467 490 L1471.5 506 L1474.5 440 L1478.5 371 L1481.5 440 L1483.5 480 L1485 505.4 L1488 492 L1497 489 L1508.6 487.8 L1516 497 L1525 504 L1536.5 503 L1548 500 L1558.4 498.7 L1563 490 L1566.7 451.5 L1568.3 475 L1569.8 505.4 L1571 474 L1572.5 490 L1575 503 L1580 501 L1595.8 503 L1610 503 L1624.9 504 L1638 505" stroke="#cc0000" stroke-width="3.8" />
<circle cx="1036.3" cy="498.1" r="6.1" fill="#cc0000"/>
<circle cx="1065.4" cy="465.5" r="6.1" fill="#cc0000"/>
<circle cx="1095.6" cy="486.3" r="6.1" fill="#cc0000"/>
<circle cx="1123.5" cy="486" r="6.1" fill="#cc0000"/>
<circle cx="1155" cy="504.5" r="6.1" fill="#cc0000"/>
<circle cx="1184" cy="486.6" r="6.1" fill="#cc0000"/>
<circle cx="1212.6" cy="485.7" r="6.1" fill="#cc0000"/>
<circle cx="1242.9" cy="488.1" r="6.1" fill="#cc0000"/>
<circle cx="1271.4" cy="504.5" r="6.1" fill="#cc0000"/>
<circle cx="1301" cy="492.4" r="6.1" fill="#cc0000"/>
<circle cx="1330.5" cy="488" r="6.1" fill="#cc0000"/>
<circle cx="1360.3" cy="491" r="6.1" fill="#cc0000"/>
<circle cx="1389.7" cy="472.5" r="6.1" fill="#cc0000"/>
<circle cx="1419.7" cy="464.9" r="6.1" fill="#cc0000"/>
<circle cx="1448.9" cy="476.3" r="6.1" fill="#cc0000"/>
<circle cx="1478.5" cy="371" r="6.1" fill="#cc0000"/>
<circle cx="1508.6" cy="487.8" r="6.1" fill="#cc0000"/>
<circle cx="1536.5" cy="503" r="6.1" fill="#cc0000"/>
<circle cx="1566.7" cy="451.5" r="6.1" fill="#cc0000"/>
<circle cx="1595.8" cy="503" r="6.1" fill="#cc0000"/>
<circle cx="1624.9" cy="504" r="6.1" fill="#cc0000"/>
<path d="M1007.6 487.7 L1020 486.7 L1035.1 483.7 L1045 484.7 L1055 483.2 L1059 494.7 L1060.8 502.2 L1063 478.7 L1065.5 440 L1066.5 406 L1068 440 L1070 466.7 L1072 491.7 L1076 480.7 L1080 466.7 L1083 477.7 L1086 466.7 L1091.4 452.2 L1097 458.7 L1104 466.7 L1110 464 L1112 455 L1113.5 436 L1116.5 410 L1118 400 L1119.9 387 L1121.5 420 L1123 446.7 L1126 466.7 L1130 481.7 L1138 492.7 L1147.2 500.7 L1155 494.7 L1165 486.7 L1175.6 483.7 L1190 484.2 L1203.6 485.7 L1218 485.7 L1231.6 486.7 L1245 489.7 L1252 496.7 L1257.4 504.7 L1266 499.7 L1276 491.7 L1287.1 488.2 L1300 490.7 L1315.6 494.2 L1328 491.7 L1335 487 L1336.2 478 L1337.4 467 L1337.6 449 L1339.5 400 L1340.5 378 L1341.5 400 L1343 434.4 L1345.8 479 L1347.2 490 L1347.5 504 L1350 492 L1356 485.7 L1363 476.7 L1371.4 469.7 L1385 461.7 L1399.3 456.2 L1410 462.7 L1420 474.7 L1427.7 481.7 L1440 478.7 L1455.6 480.7 L1461 482.7 L1463 494" stroke="#6aa51d" stroke-width="5" stroke-dasharray="14.6 12.45 0.01 12.45"/>
<path d="M1471.5 496 L1473 499.7 L1476 491.7 L1484 481.7 L1492 486.7 L1500 493.7 L1509.8 501.7 L1520 498.7 L1530 493.7 L1540.1 492.7 L1548 486.7 L1556 493.7 L1562 488.7 L1568 495.7 L1580 497.7 L1596.4 499.7 L1610 498.7 L1624.3 499.7 L1638 496.7" stroke="#6aa51d" stroke-width="5" stroke-dasharray="14.6 12.45 0.01 12.45"/>
<path d="M1467 335.1L1463.9 488M1467.6 335.1L1470.9 488" stroke="#6aa51d" stroke-width="5" stroke-dasharray="0.01 12.45 14.6 12.45"/>
<path d="M1000.3 493.8L1014.9 493.8L1007.6 481.4Z" fill="#6aa51d"/>
<path d="M1027.8 489.8L1042.4 489.8L1035.1 477.4Z" fill="#6aa51d"/>
<path d="M1056.3 475.5L1070.9 475.5L1063.6 463.1Z" fill="#6aa51d"/>
<path d="M1084.1 458.3L1098.7 458.3L1091.4 445.9Z" fill="#6aa51d"/>
<path d="M1112.6 390.1L1127.2 390.1L1119.9 377.7Z" fill="#6aa51d"/>
<path d="M1139.9 506.8L1154.5 506.8L1147.2 494.4Z" fill="#6aa51d"/>
<path d="M1168.3 489.8L1182.9 489.8L1175.6 477.4Z" fill="#6aa51d"/>
<path d="M1196.3 491.8L1210.9 491.8L1203.6 479.4Z" fill="#6aa51d"/>
<path d="M1224.3 492.8L1238.9 492.8L1231.6 480.4Z" fill="#6aa51d"/>
<path d="M1250.1 510.8L1264.7 510.8L1257.4 498.4Z" fill="#6aa51d"/>
<path d="M1279.8 494.3L1294.4 494.3L1287.1 481.9Z" fill="#6aa51d"/>
<path d="M1308.3 500.3L1322.9 500.3L1315.6 487.9Z" fill="#6aa51d"/>
<path d="M1335.7 440.5L1350.3 440.5L1343 428.1Z" fill="#6aa51d"/>
<path d="M1364.7 475.4L1379.3 475.4L1372 463Z" fill="#6aa51d"/>
<path d="M1392 462.3L1406.6 462.3L1399.3 449.9Z" fill="#6aa51d"/>
<path d="M1420.4 487.8L1435 487.8L1427.7 475.4Z" fill="#6aa51d"/>
<path d="M1448.3 486.8L1462.9 486.8L1455.6 474.4Z" fill="#6aa51d"/>
<path d="M1476.7 487.8L1491.3 487.8L1484 475.4Z" fill="#6aa51d"/>
<path d="M1502.5 507.8L1517.1 507.8L1509.8 495.4Z" fill="#6aa51d"/>
<path d="M1532.8 498.8L1547.4 498.8L1540.1 486.4Z" fill="#6aa51d"/>
<path d="M1560.7 501.8L1575.3 501.8L1568 489.4Z" fill="#6aa51d"/>
<path d="M1589.1 505.8L1603.7 505.8L1596.4 493.4Z" fill="#6aa51d"/>
<path d="M1617 505.8L1631.6 505.8L1624.3 493.4Z" fill="#6aa51d"/>
<path d="M1630.7 502.8L1645.3 502.8L1638 490.4Z" fill="#6aa51d"/>
<path d="M1007.6 493 L1020 490 L1038.7 486.5 L1050 485.5 L1062 485.5 L1066 495 L1068.5 500 L1070.6 476" stroke="#4db8f5" stroke-width="5" stroke-dasharray="14.6 12.45 0.01 12.45"/>
<path d="M1074.6 476 L1076 500 L1080 490 L1084 460 L1088 407 L1091 420 L1093.5 430 L1096 447 L1100 458 L1103.9 463 L1105.7 458 L1108 446 L1111 436 L1114 400 L1116 381 L1118.5 420 L1120.5 436 L1122.2 458.8 L1125.9 474 L1130.2 484 L1137.5 496.7 L1143 494 L1148 480 L1152.2 496 L1155.3 502 L1159.6 493.6 L1169.4 491.2 L1176.7 487.5 L1187.7 486.3 L1200.5 489 L1215 488 L1233.2 490 L1245 492 L1255 498 L1265.3 506 L1275 503 L1285 497 L1297.4 495 L1310 497 L1320 496 L1330 498.6 L1335 503 L1339 505 L1339.2 489 L1340.7 478 L1342.9 467 L1343 449.6 L1344.8 438.7 L1347.8 444 L1348 460.5 L1349.2 472 L1351 484.5 L1353.8 499.7 L1357 493 L1361.7 483 L1370 473 L1380 468 L1395.2 461.6 L1405 463 L1415 475 L1426.5 484 L1440 487 L1457.4 486.5 L1463 500 L1466 480 L1469 440 L1471 445 L1473 480 L1476 503 L1480 490 L1485 500 L1491 487 L1500 487 L1508 495 L1515 502 L1523.2 501 L1535 495 L1545 494 L1552 480 L1554.6 482 L1560 476 L1563 490 L1566 503 L1575 504 L1587.3 503.5 L1600 504 L1619.4 504.5 L1638 505" stroke="#4db8f5" stroke-width="5" stroke-dasharray="14.6 12.45 0.01 12.45"/>
<path d="M1072.9 128V476" stroke="#4db8f5" stroke-width="5.6" stroke-dasharray="26.4 13.2"/>
<path d="M1000.3 486.9L1014.9 486.9L1007.6 499.3Z" fill="#4db8f5"/>
<path d="M1031.4 480.4L1046 480.4L1038.7 492.8Z" fill="#4db8f5"/>
<path d="M1065 232L1079.6 232L1072.3 244.4Z" fill="#4db8f5"/>
<path d="M1096.8 456.3L1111.4 456.3L1104.1 468.7Z" fill="#4db8f5"/>
<path d="M1129.5 489.4L1144.1 489.4L1136.8 501.8Z" fill="#4db8f5"/>
<path d="M1162.2 485L1176.8 485L1169.5 497.4Z" fill="#4db8f5"/>
<path d="M1193.2 482.9L1207.8 482.9L1200.5 495.3Z" fill="#4db8f5"/>
<path d="M1225.9 483.9L1240.5 483.9L1233.2 496.3Z" fill="#4db8f5"/>
<path d="M1258 499.9L1272.6 499.9L1265.3 512.3Z" fill="#4db8f5"/>
<path d="M1290.1 488.9L1304.7 488.9L1297.4 501.3Z" fill="#4db8f5"/>
<path d="M1322.7 492.5L1337.3 492.5L1330 504.9Z" fill="#4db8f5"/>
<path d="M1354.1 477.5L1368.7 477.5L1361.4 489.9Z" fill="#4db8f5"/>
<path d="M1387.9 455.5L1402.5 455.5L1395.2 467.9Z" fill="#4db8f5"/>
<path d="M1419.2 477.9L1433.8 477.9L1426.5 490.3Z" fill="#4db8f5"/>
<path d="M1450.1 480.4L1464.7 480.4L1457.4 492.8Z" fill="#4db8f5"/>
<path d="M1483.7 480.9L1498.3 480.9L1491 493.3Z" fill="#4db8f5"/>
<path d="M1515.9 494.9L1530.5 494.9L1523.2 507.3Z" fill="#4db8f5"/>
<path d="M1547.3 475.9L1561.9 475.9L1554.6 488.3Z" fill="#4db8f5"/>
<path d="M1580 497.4L1594.6 497.4L1587.3 509.8Z" fill="#4db8f5"/>
<path d="M1612.1 498.4L1626.7 498.4L1619.4 510.8Z" fill="#4db8f5"/>
<path d="M1630.7 498.9L1645.3 498.9L1638 511.3Z" fill="#4db8f5"/>
</g>
<g stroke="#000" stroke-width="3.7" fill="none">
<path d="M1007.6 60.0V571.3000000000001M1638.0 60.0V571.3000000000001M1005.9 61.7H1639.7M1005.9 569.6H1639.7"/>
<path d="M1007.6 569.4h-9.8M1007.6 506h-9.8M1007.6 442.6h-9.8M1007.6 379.2h-9.8M1007.6 315.8h-9.8M1007.6 252.4h-9.8M1007.6 189h-9.8M1007.6 125.6h-9.8M1007.6 62.2h-9.8M1007.6 537.7h-5M1007.6 474.3h-5M1007.6 410.9h-5M1007.6 347.5h-5M1007.6 284.1h-5M1007.6 220.7h-5M1007.6 157.3h-5M1007.6 93.9h-5M1007.6 569.6v9.8M1133.7 569.6v9.8M1259.8 569.6v9.8M1385.8 569.6v9.8M1511.9 569.6v9.8M1638 569.6v9.8M1070.6 569.6v5M1196.7 569.6v5M1322.8 569.6v5M1448.9 569.6v5M1575 569.6v5"/>
</g>
<g class="tk" fill="#000">
<text transform="translate(990 578.3) scale(1 1.04)" text-anchor="end">-0.5</text>
<text transform="translate(990 514.9) scale(1 1.04)" text-anchor="end">0.0</text>
<text transform="translate(990 451.5) scale(1 1.04)" text-anchor="end">0.5</text>
<text transform="translate(990 388.1) scale(1 1.04)" text-anchor="end">1.0</text>
<text transform="translate(990 324.7) scale(1 1.04)" text-anchor="end">1.5</text>
<text transform="translate(990 261.3) scale(1 1.04)" text-anchor="end">2.0</text>
<text transform="translate(990 197.9) scale(1 1.04)" text-anchor="end">2.5</text>
<text transform="translate(990 134.5) scale(1 1.04)" text-anchor="end">3.0</text>
<text transform="translate(990 71.1) scale(1 1.04)" text-anchor="end">3.5</text>
<text transform="translate(1007.6 610.8) scale(1 1.04)" text-anchor="middle">20</text>
<text transform="translate(1133.68 610.8) scale(1 1.04)" text-anchor="middle">25</text>
<text transform="translate(1259.76 610.8) scale(1 1.04)" text-anchor="middle">30</text>
<text transform="translate(1385.84 610.8) scale(1 1.04)" text-anchor="middle">35</text>
<text transform="translate(1511.92 610.8) scale(1 1.04)" text-anchor="middle">40</text>
<text transform="translate(1638 610.8) scale(1 1.04)" text-anchor="middle">45</text>
</g>
<text transform="translate(1323 662.5) scale(1 1.04)" text-anchor="middle" class="ti">Frequency (GHz)</text>
<text transform="translate(1295.5 725) scale(1 1.04)" text-anchor="middle" font-size="35">(b)</text>
<text transform="translate(930 316) rotate(-90)" text-anchor="middle" font-size="31">Group Delay (ns)</text>
<g id="legend-b" class="lg">
<path d="M1281.5 84.5H1340" stroke="#000000" stroke-width="3.8" stroke-linecap="round" fill="none"/>
<rect x="1305.5" y="79" width="11" height="11" fill="#000000"/>
<text transform="translate(1347 93) scale(1 1.04)" font-size="26.5">Port 1</text>
<path d="M1417 84.5H1475.5" stroke="#cc0000" stroke-width="3.8" stroke-linecap="round" fill="none"/>
<circle cx="1446" cy="84.5" r="6.1" fill="#cc0000"/>
<text transform="translate(1483 93) scale(1 1.04)" font-size="26.5">Port 2 (Sim.)</text>
<path d="M1281.8 117.5h14.6m24.9 0h14.6" stroke="#6aa51d" stroke-width="5" stroke-linecap="round" fill="none"/>
<path d="M1303.7 123.6L1318.3 123.6L1311 111.2Z" fill="#6aa51d"/>
<text transform="translate(1347 126) scale(1 1.04)" font-size="26.5">Port 1</text>
<path d="M1417.3 117.5h14.6m24.9 0h14.6" stroke="#4db8f5" stroke-width="5" stroke-linecap="round" fill="none"/>
<path d="M1438.7 111.4L1453.3 111.4L1446 123.8Z" fill="#4db8f5"/>
<text transform="translate(1483 126) scale(1 1.04)" font-size="26.5">Port 2 (Mes.)</text>
</g>
</g>
</svg>
</body></html>
